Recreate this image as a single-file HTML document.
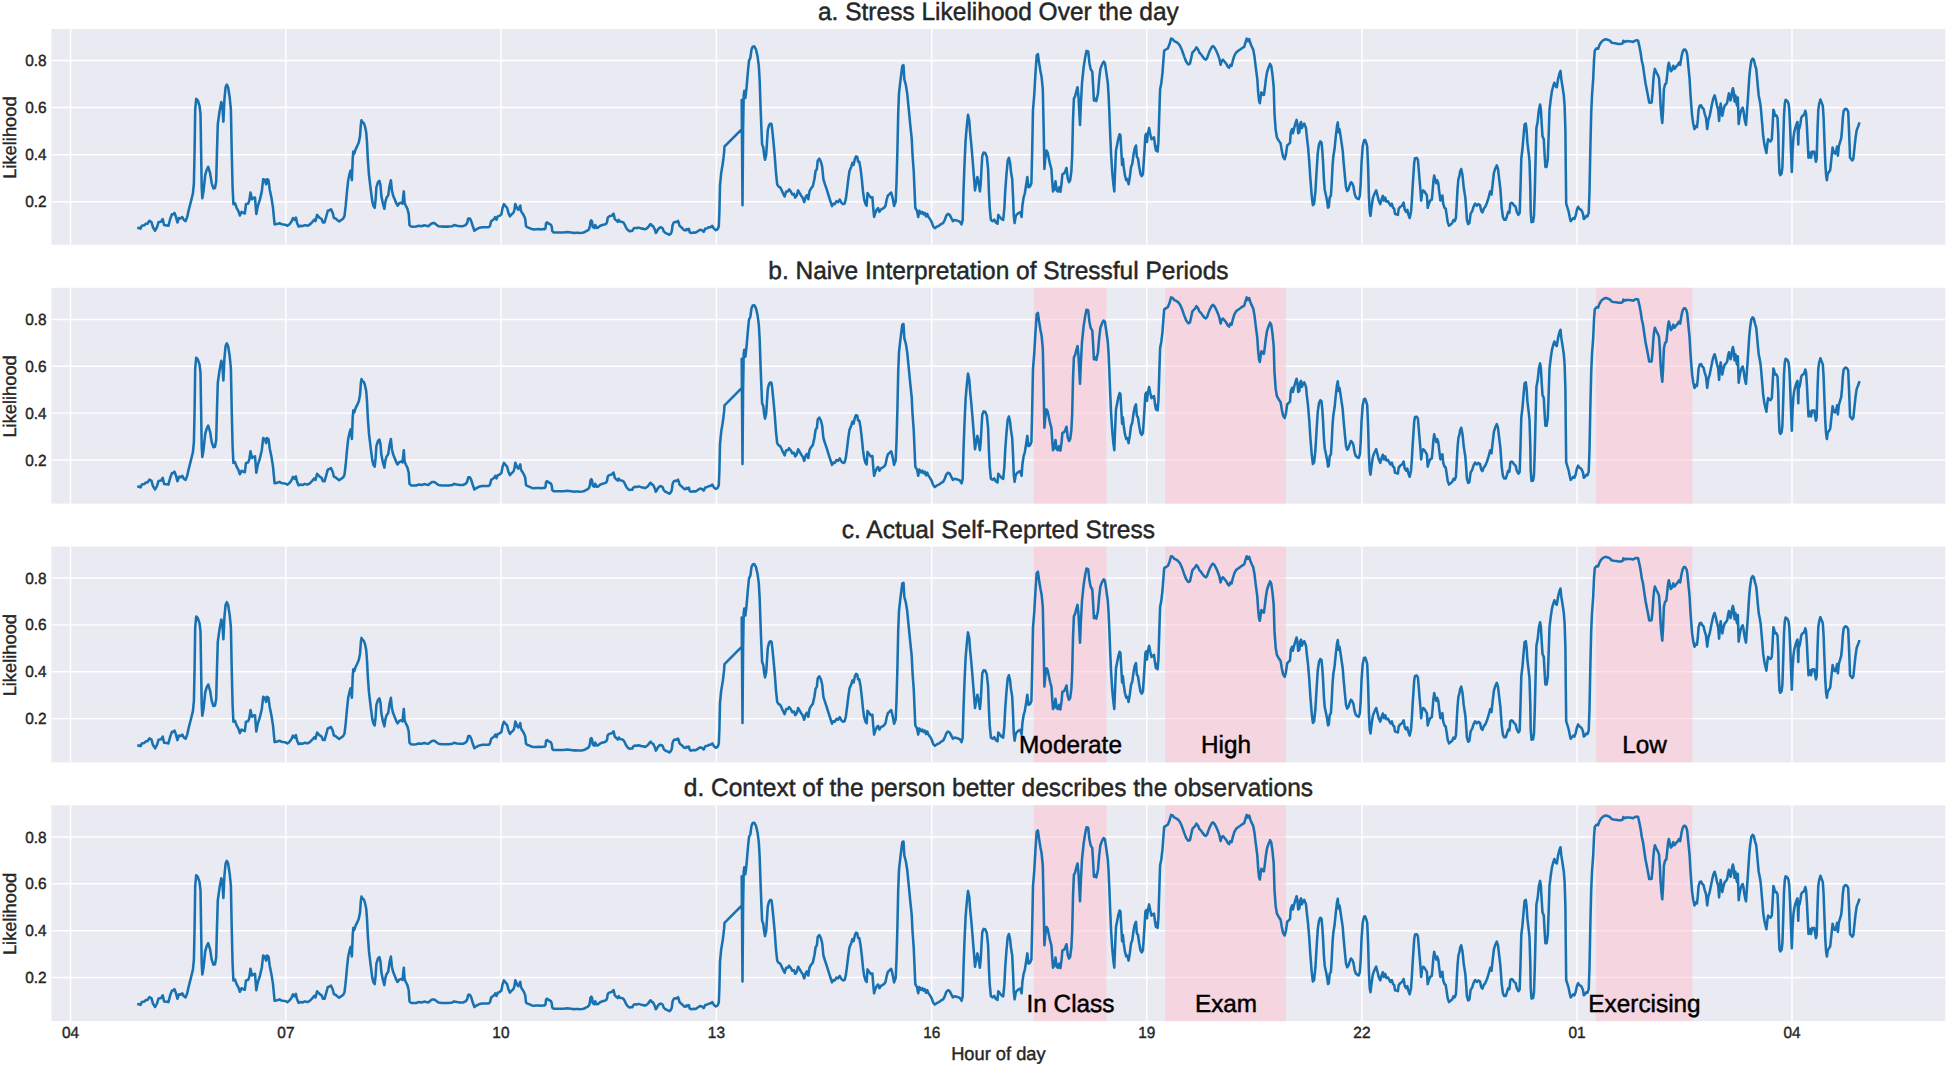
<!DOCTYPE html>
<html lang="en"><head><meta charset="utf-8"><title>Stress Likelihood</title>
<style>html,body{margin:0;padding:0;background:#fff}svg{display:block}text{font-family:"Liberation Sans",Arial,Helvetica,sans-serif;text-rendering:geometricPrecision}.t{font-size:24.5px;fill:#262626;stroke:#262626;stroke-width:.45px;text-anchor:middle}.k{font-size:15.4px;fill:#262626;stroke:#262626;stroke-width:.4px}.l{font-size:18.3px;fill:#262626;stroke:#262626;stroke-width:.4px;text-anchor:middle}.a{font-size:24.35px;fill:#000;stroke:#000;stroke-width:.45px;text-anchor:middle}</style></head><body>
<svg width="1948" height="1067" viewBox="0 0 1948 1067">
<rect width="1948" height="1067" fill="#fff"/>
<g>
<rect x="51.4" y="29.0" width="1894" height="215.8" fill="#eaeaf2"/>
<path d="M70.50,29.0V244.8M285.85,29.0V244.8M500.90,29.0V244.8M716.40,29.0V244.8M931.70,29.0V244.8M1146.80,29.0V244.8M1361.90,29.0V244.8M1577.00,29.0V244.8M1792.00,29.0V244.8M51.4,60.40H1945.4M51.4,107.53H1945.4M51.4,154.67H1945.4M51.4,201.80H1945.4" stroke="#fff" stroke-width="1.45" fill="none"/>
<path transform="translate(0,29.0)" d="M137.2,199.2 L139.2,198.8 L140.6,199.6 L141.8,196.8 L144.3,196.3 L145.9,194.7 L147.4,194.7 L149.4,191.8 L151.5,193.1 L152.9,198.2 L155.1,201.7 L157,198.2 L158.6,193.1 L161.1,192.7 L162.7,190 L164.1,196.1 L166.8,196.5 L168.4,196.8 L170.2,190 L171.9,185.3 L173.3,185.3 L174.5,183.9 L176,188 L177.4,193.5 L179,189 L180.7,189.4 L182.3,188 L183.9,191 L185.6,192.1 L187.2,188 L188.8,180.8 L190.9,172.6 L192.9,164.5 L193.9,154.3 L194.6,121.6 L195.2,80.7 L196.2,69.9 L197.8,71.5 L199.5,76.6 L200.5,84.8 L201.1,121.6 L201.7,158.3 L202.3,169.2 L203.5,162.4 L205.2,146.1 L206.6,141 L208.2,137.9 L210.1,144 L211.7,154.3 L213.4,159.4 L215,159 L216.2,152.2 L217,121.6 L217.8,95 L219.5,82.8 L221.3,73 L222.3,76.6 L223.4,92.6 L224.4,70.5 L225.6,58.2 L226.8,55.6 L228.1,58.2 L229.7,68.5 L230.9,80.7 L231.7,121.6 L232.6,158.3 L233.4,175.1 L235,174.3 L236.6,178.8 L238.3,181.8 L239.9,186.5 L241.5,182.9 L243.2,183.9 L244.8,184.5 L246,175.1 L248.1,174.7 L249.3,171.6 L250.5,163.5 L252,170.2 L253.4,169 L255,168.6 L256.3,184.9 L257.9,176.7 L259.9,170.6 L261.8,162.4 L263.2,150.2 L264.8,151.2 L266.1,155.3 L266.9,150.2 L268.5,151.2 L269.7,160.4 L271.4,168.6 L273,178.8 L274.6,195.5 L276.3,195.1 L277.9,194.7 L279.5,194.1 L281.2,195.1 L283.2,195.5 L285.3,195.7 L287.3,196.8 L289.3,195.5 L291.4,192.7 L293,189 L294.7,191 L295.9,188.6 L297.1,194.1 L298.7,197.6 L300.4,196.8 L302.4,197.2 L304.9,196.1 L307.3,196.8 L309.8,195.5 L312.2,193.1 L314.3,190.6 L315.5,192.1 L317.1,185.9 L318.8,188 L320,189 L321.6,190 L322.9,193.5 L324.5,193.5 L326.1,188 L327.8,181.8 L329.4,181.2 L331,180.4 L332.7,183.9 L333.9,189 L335.5,189.4 L337.2,191 L339.2,192.5 L341.2,191 L343.3,189.4 L344.5,186.9 L345.7,176.7 L347,162.4 L348.2,151.2 L349.8,144 L350.6,141.6 L351.9,151.2 L352.7,129.7 L353.3,122.6 L354.3,124.6 L355.5,120.6 L357.2,117.1 L358.8,113.4 L360,107.3 L360.9,95 L361.5,91.3 L362.5,93.4 L363.7,94 L364.9,97.1 L366.2,103.2 L367,113.4 L367.8,129.7 L369,146.1 L370.7,160.4 L372.3,172.6 L373.5,177.1 L374.7,178.8 L375.6,170.6 L376.4,158.3 L378,153.2 L379.4,151.8 L380.5,156.3 L381.3,166.5 L382.9,174.7 L384.4,179.8 L385.4,172.6 L386.6,168.6 L388.2,166.5 L389.5,157.3 L390.9,151.2 L391.9,161.4 L393.1,166.5 L394.8,170.6 L396.4,174.7 L397.6,176.7 L399.3,174.3 L400.9,173.7 L402.5,174.7 L403.8,162.4 L404.6,173.7 L405.8,176.7 L407.4,179.8 L408.7,184.9 L409.5,196.1 L411.1,197.6 L413.2,197.8 L416,197.6 L418.9,196.8 L421.7,197.2 L424.2,196.3 L426.2,196.8 L428.3,197.2 L430.3,195.5 L432.4,194.1 L434.4,194.1 L436.4,195.7 L438.5,197.2 L441.8,197.6 L445,197.6 L448.7,197.6 L452.4,197.2 L454,196.1 L456.9,196.8 L459.9,197.2 L463,197.2 L465.5,196.1 L467.1,194.1 L468.3,189.4 L469.9,189.4 L471.2,192.1 L472.8,197.2 L474.4,201.7 L476.5,200.2 L479.3,198.8 L482.6,198.2 L485.9,198.2 L488.7,198.2 L490,196.8 L491.2,192.1 L492.8,191 L494.1,190 L495.3,188 L496.5,190.6 L497.7,187.4 L499.4,186.9 L501.4,185.3 L502.6,178.8 L503.9,175.1 L505.5,177.1 L507.1,178.8 L508.4,183.9 L510,187.4 L510,187.3 L511.2,185.7 L512.5,184.7 L513.7,183.2 L514.5,180.6 L515.3,175 L516.2,177 L517,179.1 L518.2,180.8 L519.2,179.1 L520.3,176.5 L520.9,181.6 L521.9,183.5 L523.1,185.2 L524.2,187.3 L525.2,189.9 L526,197 L527,198.1 L528.5,198.6 L530.1,199.3 L532,200.1 L534,200.5 L536.3,200.3 L538.5,200.1 L540.8,200.5 L542.9,200.1 L544.7,200.1 L545.5,199.1 L546.1,194 L547.2,193.4 L548.4,194.5 L549.6,195 L550.9,195.8 L551.7,197.6 L552.3,202.2 L553.5,203.4 L555.2,203.5 L557.2,203.4 L559.3,203.4 L561.3,203.4 L563.4,203.4 L565.4,203.2 L567.1,203 L568.9,203.2 L571,203.4 L572.8,203.7 L574.1,204 L575.7,203.7 L577.8,203.8 L579.8,203.9 L581.9,203.8 L583.5,203.5 L584.9,203 L586.4,202 L587.8,201.4 L589.1,200.1 L589.9,197 L590.5,192.4 L591.3,191.4 L592.1,192.9 L592.8,198.1 L593.6,197 L594.4,199.1 L595.2,196 L596,197.6 L596.9,198.9 L598.1,198.6 L599.3,197.6 L600.3,196.8 L601.8,196.2 L603.2,195.8 L604.7,195.4 L606.1,194.8 L607.1,192.9 L607.7,188.8 L608.8,187.6 L610.2,187 L611.6,186.8 L612.7,185.7 L613.5,184.7 L614.1,186.8 L614.7,189.9 L615.7,190.9 L616.8,191.9 L617.8,192.9 L618.8,190.9 L619.9,192.4 L621.3,192.7 L622.5,192.9 L623.8,194 L624.8,195.8 L625.8,198.1 L627,200.1 L628.3,201.4 L629.5,202.2 L630.7,202 L632.2,202 L633.2,200.1 L634.2,199.1 L635.7,198.9 L637.3,199.1 L638.7,198.6 L640.2,199.1 L641.6,199.6 L643.1,199.6 L644.5,200.3 L645.9,199.9 L647.4,198.9 L648.6,197.6 L649.6,196 L650.7,195 L651.7,196.5 L653.1,197.2 L654.1,199.1 L655,201.1 L655.8,204 L656.8,202.7 L657.8,200.6 L659.1,199.1 L660.5,198.3 L661.7,198.6 L662.8,199.6 L663.6,202.2 L665,203.7 L666.5,204.4 L667.9,205 L669.3,205.8 L670.8,204.7 L671.8,202.2 L672.6,196 L673.9,193.4 L675.3,192.9 L676.7,193.1 L678,191.9 L678.8,194 L679.4,196.5 L680.4,197.6 L681.7,198.6 L682.9,199.9 L684.1,201.1 L685.6,201.4 L686.6,200.1 L687.8,200.9 L688.9,199.9 L689.7,203.2 L690.9,204 L692.3,203.7 L693.8,203.4 L695.2,203.7 L696.7,203 L698.1,202 L699.5,201.1 L700,200.8 L702,201.2 L703.7,202.9 L705.3,199.6 L707.4,199.2 L709,198.2 L710.6,198.2 L712.3,196.8 L713.9,199.6 L715.9,201.2 L717.6,200.2 L718.8,197.2 L719.4,182.9 L720,156.3 L721.2,144 L722.9,133.8 L724.1,123.6 L724.5,117.5 L741.9,100.1 L741.7,70.9 L742.5,176.3 L743.1,101.1 L743.7,66.4 L744.3,61.9 L745.4,68.9 L746.6,58.2 L747.8,43.9 L749,31.7 L750.3,29.2 L751.5,20.5 L752.7,17.8 L754.3,17.4 L756,20.5 L757.6,27.6 L758.8,36.8 L759.7,52.1 L760.5,76.6 L761.3,97.1 L762.1,115.4 L763.3,118.5 L764.1,125.7 L765,130.8 L766.2,125.7 L767,113.4 L767.8,101.1 L769.1,96 L770.3,94.6 L771.5,95 L772.3,101.1 L773.5,113.4 L774.8,127.7 L776,144 L777.2,155.3 L778.4,157.3 L780.1,158.3 L781.3,160.4 L782.9,164.1 L784.6,167.5 L786.2,162.4 L787.8,162.4 L789.1,160.4 L790.7,162.4 L792.3,165.5 L794,164.9 L795.2,168.6 L796.8,166.5 L798.1,161.4 L799.7,164.1 L801.3,166.9 L802.6,168.6 L804.2,173.1 L805.8,167.5 L807,166.1 L808.3,170.2 L809.5,162.4 L811.1,159.4 L812.8,157.3 L814.4,150.2 L815.6,142 L816.9,140 L817.7,131.8 L819.3,129.7 L820.9,132.8 L822.2,137.9 L823.4,150.2 L825,155.3 L826.7,160.4 L828.3,165.5 L829.9,170.6 L832,177.1 L833.2,174.7 L834.8,175.1 L836.5,172.2 L838.1,173.1 L839.7,170.6 L841.4,173.7 L843,175.1 L844.6,174.7 L845.9,169.6 L847.1,160.4 L848.3,150.2 L849.5,142 L851.2,137.9 L852.4,133.8 L853.6,135.9 L854.9,129.7 L856.1,127.3 L857.3,128.1 L858.1,132.8 L859.3,132.8 L860.6,140 L861.8,150.2 L863,162.4 L864.2,170.6 L865.5,175.1 L866.7,176.7 L867.5,164.1 L869.2,166.5 L870.8,168.6 L872.4,168.2 L873.2,178.8 L874.1,188 L875.3,183.9 L876.9,180.4 L878.1,179.2 L879.4,182.9 L881,180.4 L882.6,179.8 L884.3,178.4 L885.5,176.7 L886.7,170.6 L887.9,166.5 L889.2,165.5 L890,164.5 L891.2,163.5 L892.5,168.6 L894.1,177.1 L895.7,172.6 L896.5,154.3 L897.4,121.6 L898.2,84.8 L899,64.4 L900.6,50.1 L902.3,36.8 L903.5,36.2 L904.3,50.1 L905.9,56.2 L907.2,64.4 L908.8,80.7 L910.4,97.1 L911.7,109.3 L912.5,125.7 L913.7,142 L914.5,160.4 L915.3,178.8 L917,181.8 L918.2,188 L919.4,181.8 L921.1,184.5 L922.3,182.9 L923.5,185.3 L924.7,183.9 L926,187.4 L927.2,184.9 L928.4,188 L930,190 L931.7,193.1 L933.3,197.6 L934.9,199.2 L937,197.6 L939,196.8 L941.1,195.1 L943.1,194.1 L944.7,191 L946.4,186.5 L948,184.9 L949.7,185.9 L951.3,189 L952.9,192.1 L954.6,191 L956.6,191.4 L958.6,192.1 L960.3,193.1 L961.5,195.5 L962.7,191 L963.5,162.4 L964.4,137.9 L965.6,111.4 L966.8,97.1 L968,85.8 L969.3,92 L970.1,103.2 L971.3,115.4 L972.5,129.7 L973.8,146.1 L975,161.4 L976.2,154.3 L977.4,148.1 L978.7,154.3 L979.9,162.4 L980.7,154.3 L981.5,140 L982.3,126.7 L983.6,123.6 L985.2,124 L986.8,127.7 L988.1,140 L988.9,162.4 L989.7,178.8 L990.9,191 L992.6,192.1 L994.2,190.6 L995.8,193.5 L997.5,194.7 L998.3,185.9 L999.9,188 L1001.5,190 L1003.2,191 L1004.4,178.8 L1005.2,162.4 L1006.4,146.1 L1007.7,131.8 L1008.9,128.7 L1010.1,133.8 L1010.9,142 L1012.2,150.2 L1013,166.5 L1013.8,186.9 L1014.6,194.1 L1015.8,186.9 L1017.1,185.3 L1018.7,183.9 L1020.3,183.3 L1021.6,188 L1022.4,176.7 L1023.6,168.6 L1024.8,164.5 L1026.1,156.3 L1027.3,148.1 L1028.5,158.3 L1030.1,157.3 L1031.4,154.3 L1032.2,121.6 L1033,80.7 L1034.2,66.4 L1035.5,43.9 L1036.7,26.6 L1037.9,25.1 L1039.1,33.7 L1040.4,41.9 L1041.6,48 L1042.8,60.3 L1043.6,97.1 L1044.4,140 L1045.3,129.7 L1046.5,121.6 L1047.7,123.6 L1048.9,129.7 L1050.2,135.9 L1051.4,140 L1052.2,152.2 L1053,162.4 L1054.2,160.4 L1055.5,152.2 L1056.7,161.4 L1057.9,162.4 L1059.2,158.3 L1060.4,162.8 L1061.6,154.3 L1062.4,145.1 L1064.1,144.5 L1065.3,142 L1066.5,138.9 L1067.7,149.2 L1069,153.2 L1070.2,151.2 L1071.4,142 L1072.2,125.7 L1073,90.9 L1073.9,69.5 L1075.1,67.4 L1076.3,62.3 L1077.5,58.2 L1078.4,66.4 L1079.2,80.7 L1080,96 L1080,96 L1080.8,76.6 L1082,54.2 L1083.7,37.8 L1085.3,27.6 L1086.5,21.9 L1088.2,22.5 L1089.4,33.7 L1090.6,39.9 L1092.3,42.9 L1093.1,56.2 L1093.9,71.5 L1095.1,69.5 L1096.3,72.1 L1098,64.4 L1099.2,50.1 L1100.4,39.9 L1102.1,35.4 L1103.7,32.7 L1104.9,34.1 L1106.1,41.9 L1107.8,54.2 L1108.6,66.4 L1109.4,84.8 L1110.2,105.2 L1111.1,125.7 L1112.3,144 L1113.5,156.3 L1114.3,162.4 L1115.1,142 L1116,121.6 L1117.2,115.4 L1118.4,109.3 L1119.6,105.2 L1120.4,106.3 L1121.3,121.6 L1122.1,135.9 L1122.9,129.7 L1123.7,137.9 L1124.9,146.1 L1126.2,151.2 L1127.4,150.2 L1128.6,155.3 L1129.8,148.1 L1131.1,137.9 L1132.3,134.9 L1133.5,125.7 L1134.7,119.5 L1136,116.5 L1136.8,127.7 L1138,129.7 L1139.2,137.9 L1140.5,145.1 L1141.7,147.1 L1142.9,145.1 L1143.7,133.8 L1144.6,119.5 L1145.4,106.3 L1146.2,104.8 L1147,113 L1147.8,105.2 L1149.1,99.1 L1150.3,105.2 L1151.5,110.3 L1152.7,109.3 L1154,108.3 L1155.2,117.5 L1156,121.6 L1156.8,117.5 L1157.6,122.6 L1158.4,113.4 L1159.3,84.8 L1160.1,60.3 L1161.3,54.2 L1162.5,43.9 L1163.4,31.7 L1164.2,21.5 L1165.8,20.5 L1167.8,19.4 L1169.5,15.3 L1171.1,9.6 L1172.7,10.2 L1174.4,12.3 L1176,12.9 L1178.1,14.3 L1180.1,17 L1182.1,21.5 L1184.2,27.6 L1186.2,32.7 L1188.3,35.4 L1189.9,34.8 L1191.1,29.6 L1192.4,23.5 L1194,21.9 L1195.2,20.5 L1196.4,18.4 L1198.1,20.5 L1199.3,23.5 L1200.9,25.1 L1202.6,27.6 L1204.2,29.6 L1205.8,30.7 L1207.1,29.2 L1208.3,25.6 L1209.9,21.5 L1211.6,18.4 L1212.8,17 L1214.4,18.4 L1216.1,21.5 L1217.7,25.1 L1219.3,29.6 L1220.6,35.8 L1221.8,31.7 L1223,30.7 L1224.6,32.7 L1226.3,34.8 L1227.9,37.8 L1229.1,38.8 L1230.4,35.8 L1231.6,36.8 L1232.8,31.7 L1234.4,26.6 L1236.1,23.5 L1238.1,21.9 L1240.2,20.5 L1242.2,19 L1244.2,17.8 L1245.5,13.3 L1246.7,9.6 L1247.9,12.3 L1249.2,10.2 L1250.4,14.3 L1251.6,17.4 L1253.2,20.5 L1254.5,27.6 L1255.7,37.8 L1257.3,50.1 L1258.1,62.3 L1259,71.5 L1259.8,74.2 L1260.6,68.5 L1261.4,63.4 L1262.6,65.4 L1263.9,66 L1264.7,60.3 L1265.9,50.1 L1267.1,42.9 L1268.8,37.8 L1270,35.4 L1270,34.8 L1271.2,36.8 L1272.5,46 L1273.7,58.2 L1274.5,84.8 L1275.7,101.1 L1276.9,108.3 L1278.6,111.4 L1280.6,114.4 L1281.8,121.6 L1283.1,127.7 L1284.7,130.2 L1285.9,125.7 L1287.2,116.5 L1288.4,115.4 L1290,113.8 L1290.8,103.2 L1292.1,100.1 L1292.9,104.2 L1294.1,99.1 L1295.3,95 L1296.6,90.9 L1297.4,95 L1298.2,104.2 L1299.4,103.2 L1300.2,95 L1301.1,93 L1301.9,99.1 L1303.1,96 L1304.3,94.6 L1306,99.1 L1306.8,107.3 L1308,117.5 L1309.2,131.8 L1310.4,150.2 L1311.7,166.5 L1312.9,176.3 L1314.1,174.7 L1315.4,162.4 L1316.6,142 L1317.8,123.6 L1319,115.4 L1320.3,112.4 L1321.5,113.4 L1322.3,121.6 L1323.1,133.8 L1323.9,150.2 L1324.7,160.4 L1326,166.5 L1327.2,172.6 L1328,178.8 L1328.8,177.8 L1329.7,168.6 L1330.9,166.5 L1331.7,154.3 L1332.5,137.9 L1333.3,127.7 L1334.6,119.5 L1335.8,107.3 L1337,97.1 L1337.8,93.4 L1338.6,103.2 L1339.5,100.1 L1340.3,105.2 L1341.5,113.4 L1342.7,121.6 L1343.5,131.8 L1344.8,146.1 L1346,158.3 L1347.2,162 L1348.4,160.4 L1349.7,156.3 L1350.9,153.2 L1352.1,154.3 L1353.4,157.3 L1354.6,164.5 L1355.8,168.2 L1357.4,169.6 L1358.7,170.2 L1359.9,166.5 L1360.7,154.3 L1361.5,133.8 L1362.7,117.5 L1364,111.4 L1365.2,111 L1366.4,114.4 L1367.2,117.5 L1368.1,137.9 L1368.9,166.5 L1369.7,182.9 L1370.5,186.9 L1371.7,176.7 L1373,168.6 L1374.6,164.5 L1376.2,161.4 L1377.5,166.5 L1378.7,171.6 L1380.3,175.1 L1381.5,170.6 L1382.8,166.9 L1384,171.6 L1385.2,168.6 L1386.4,172.6 L1388.1,172.2 L1389.3,174.7 L1390.5,176.7 L1391.8,174.7 L1393,178.8 L1394.2,179.8 L1395,184.9 L1396.7,185.3 L1397.9,185.9 L1398.7,179.8 L1400.3,177.8 L1402,176.7 L1403.6,173.7 L1404.8,180.8 L1406.1,182.9 L1407.3,180.8 L1408.5,185.9 L1409.7,189 L1411,182.9 L1411.8,172.6 L1412.6,158.3 L1413.4,146.1 L1414.2,133.8 L1415,129.3 L1416.7,128.9 L1417.9,130.8 L1418.7,140 L1419.5,150.2 L1420.4,160.4 L1421.2,171.6 L1422,164.5 L1423.2,161.4 L1424.4,162.4 L1425.7,164.5 L1426.9,166.5 L1427.7,178.8 L1428.9,174.7 L1430.2,171.6 L1431.8,170.6 L1432.6,162.4 L1433.4,152.2 L1434.2,146.5 L1435.1,150.2 L1436.3,154.3 L1437.1,151.2 L1438.3,154.3 L1439.2,162.4 L1440.4,171.6 L1441.6,168.6 L1442.4,166.5 L1443.2,174.7 L1444.5,178.8 L1445.7,179.8 L1446.5,184.9 L1447.7,193.1 L1449,196.8 L1450.6,195.5 L1452.2,194.1 L1453.5,191 L1454.7,192.1 L1455.9,189 L1456.7,174.7 L1457.5,160.4 L1458.4,150.2 L1459.6,146.1 L1460,143 L1461.2,140 L1462.5,146.1 L1463.7,158.3 L1465.3,168.6 L1466.1,178.8 L1466.9,191 L1468.2,195.1 L1469.4,194.1 L1470.6,184.9 L1472.3,181.8 L1473.5,177.8 L1475.1,174.7 L1476.8,176.7 L1478.4,175.1 L1480,176.3 L1481.2,181.8 L1482.5,183.3 L1483.7,179.8 L1485.3,177.8 L1487,173.7 L1488.6,168.6 L1490.2,162.4 L1491.5,165.5 L1492.7,154.3 L1493.9,144 L1495.1,140 L1496.8,136.3 L1498,140 L1499.2,150.2 L1500.4,160.4 L1501.7,178.8 L1502.9,188 L1504.1,190.6 L1505.8,190.6 L1507,186.9 L1508.2,182.9 L1509.4,183.9 L1510.3,174.7 L1511.5,173.7 L1512.7,174.3 L1513.9,176.3 L1515.6,177.8 L1516.8,182.9 L1518.4,185.9 L1519.7,183.9 L1520.5,158.3 L1521.3,129.7 L1522.5,119.5 L1523.7,105.2 L1524.6,95.4 L1525.8,94.6 L1526.6,101.1 L1527.4,113.4 L1528.6,123.6 L1529.5,131.8 L1530.3,158.3 L1530.7,182.9 L1531.5,193.1 L1533.1,192.7 L1534,186.9 L1534.8,162.4 L1535.6,129.7 L1536.4,99.1 L1537.6,93 L1538.9,80.7 L1540.1,75.6 L1540.9,80.7 L1541.7,95 L1542.5,107.3 L1543.8,110.3 L1544.6,125.7 L1545.4,137.9 L1546.6,137.9 L1547.8,129.7 L1548.7,105.2 L1549.5,80.7 L1550.7,70.5 L1551.9,62.3 L1553.2,57.2 L1554.4,53.7 L1555.6,57.2 L1556.8,58.2 L1558.1,50.1 L1559.3,45 L1560.5,41.9 L1561.3,50.1 L1562.6,58.2 L1563.8,66.4 L1564.6,76.6 L1565.4,101.1 L1565.8,142 L1566.2,174.7 L1567.5,178.8 L1568.7,182.9 L1569.9,189 L1570.7,192.1 L1572,190.6 L1573.2,189 L1574.4,190 L1575.6,186.9 L1576.9,180.8 L1578.1,177.8 L1579.3,179.8 L1580.5,180.4 L1581.8,181.8 L1583,184.9 L1583.8,190 L1585,189 L1586.3,186.9 L1587.5,187.4 L1588.7,183.9 L1589.5,162.4 L1590.3,121.6 L1591.2,84.8 L1592,66.4 L1593.2,50.1 L1594,31.7 L1594.8,21.5 L1596.5,19.4 L1598.1,19.8 L1599.3,16.4 L1601,13.3 L1603,11.3 L1605.5,10.2 L1607.9,10.8 L1609.9,11.7 L1611.6,13.7 L1613.6,14.1 L1616.1,14.5 L1618.5,14.9 L1621,14.9 L1622.6,14.3 L1623.4,11.7 L1625.1,12.9 L1626.7,12.1 L1628.7,12.3 L1631.2,12.5 L1633.2,12.9 L1634.9,11.7 L1636.9,11.3 L1638.1,11.7 L1639.4,17.4 L1640.6,23.5 L1641.8,31.7 L1643,36.8 L1644.3,46 L1645.5,54.2 L1646.7,60.3 L1647.9,66.4 L1649.2,73.6 L1650,73.8 L1651.6,73.6 L1652.5,64.4 L1653.3,52.1 L1654.1,43.9 L1654.9,39.9 L1656.1,42.9 L1657.8,46 L1659,49.1 L1659.8,60.3 L1660.6,76.6 L1661.4,86.8 L1662.3,94 L1663.1,80.7 L1663.9,60.3 L1665.1,55.2 L1666.3,54.2 L1667.2,46 L1668,37.8 L1668.8,33.7 L1669.6,36.8 L1670.8,42.3 L1672.1,40.9 L1673.3,36.8 L1674.5,39.9 L1676.1,37.8 L1677.8,35.8 L1679,33.7 L1680.2,35.8 L1681.5,27.6 L1682.7,22.5 L1683.9,20.5 L1685.1,20.5 L1686.4,22.5 L1687.2,25.6 L1688,33.7 L1688.8,41.9 L1689.6,50.1 L1690.4,64.4 L1691.3,76.6 L1692.1,86.8 L1693.3,95 L1694.5,100.1 L1695.8,97.1 L1697,98.1 L1697.8,90.9 L1698.6,80.7 L1699.8,76.6 L1701.1,76.2 L1702.3,78.7 L1703.5,79.7 L1704.7,84.8 L1706,88.9 L1707.2,100.1 L1708.4,90.9 L1709.7,86.8 L1710.9,80.7 L1712.1,74.6 L1713.3,69.5 L1714.6,66.4 L1715.8,70.5 L1717,76.6 L1718.2,80.7 L1719.1,92 L1719.9,80.7 L1720.7,74.6 L1721.5,80.7 L1722.3,86.8 L1723.5,80.7 L1724.8,76.6 L1726,75.6 L1727.2,73.6 L1728,68.5 L1728.9,64.4 L1729.7,67.4 L1730.5,71.5 L1731.3,68.5 L1732.1,62.3 L1732.9,59.3 L1733.8,63.4 L1734.6,72.5 L1735.4,66.4 L1736.2,72.5 L1737,76.6 L1737.8,68.5 L1738.7,95 L1739.5,88.9 L1740.7,82.8 L1741.9,79.7 L1742.7,78.7 L1743.6,82.8 L1744.4,88.9 L1745.2,93 L1746,96 L1746.8,84.8 L1747.7,72.5 L1748.5,60.3 L1749.3,48 L1750.1,39.9 L1751.3,31.7 L1752.6,29.6 L1753.8,30.7 L1755,35.8 L1756.2,39.9 L1757,48 L1757.9,58.2 L1758.7,66.4 L1759.9,72.5 L1760.7,77.7 L1761.5,86.8 L1762.4,97.1 L1763.2,107.3 L1764.4,115.4 L1765.6,120.6 L1766.4,124 L1767.3,115.4 L1768.1,110.3 L1769.3,111.4 L1770.5,112.4 L1771.8,110.3 L1772.6,97.1 L1773.4,80.7 L1774.2,82.8 L1775,86.8 L1776.3,86.4 L1777.5,88.9 L1778.3,105.2 L1778.7,125.7 L1779.5,144 L1780.3,146.1 L1781.6,144.5 L1782.4,137.9 L1783.2,113.4 L1784,86.8 L1784.8,74.6 L1785.6,70.9 L1787.3,72.1 L1788.5,74.6 L1789.3,80.7 L1790.1,97.1 L1791,121.6 L1791.8,143 L1792.6,121.6 L1793.4,109.3 L1794.2,103.2 L1795.5,98.1 L1796.7,94.6 L1797.5,93 L1798.3,115.4 L1798.7,101.1 L1799.5,99.1 L1800.4,95 L1801.2,88.9 L1802.4,86.8 L1803.6,86.4 L1804.4,84.8 L1805.3,81.7 L1806.1,84.8 L1806.9,97.1 L1807.7,113.4 L1808.5,128.7 L1809.8,123.6 L1811,128.7 L1812.2,122.6 L1813.4,123.6 L1814.2,122.6 L1815.1,127.7 L1815.9,132.8 L1816.7,129.7 L1817.5,101.1 L1818.3,80.7 L1819.2,74.6 L1820.4,70.5 L1821.6,73.6 L1822.8,76.6 L1823.6,88.9 L1824.5,113.4 L1825.3,133.8 L1826.1,146.1 L1826.9,151.2 L1827.7,145.1 L1829,143 L1830.2,141 L1831.4,129.7 L1832.6,118.5 L1833.9,123.6 L1835.1,124.6 L1836.3,121.6 L1837.1,117.5 L1837.9,126.7 L1838.8,117.5 L1840,113.4 L1841.2,109.3 L1842,101.1 L1842.8,88.9 L1843.7,81.7 L1845.3,79.7 L1846.9,80.3 L1848.2,82.8 L1849,101.1 L1849.8,121.6 L1850,128.7 L1851,129.7 L1852.2,131.4 L1853.4,129.7 L1854.2,121.6 L1855.5,109.3 L1856.7,101.1 L1857.9,98.1 L1858.7,96 L1859.5,93.4" fill="none" stroke="#1871b1" stroke-width="2.55" stroke-linejoin="round" stroke-linecap="butt"/>
<text class="t" transform="translate(998.4,20.0) scale(1,1.02)">a. Stress Likelihood Over the day</text>
<text class="k" text-anchor="end" transform="translate(46.6,65.9) scale(1,1.04)">0.8</text>
<text class="k" text-anchor="end" transform="translate(46.6,113.0) scale(1,1.04)">0.6</text>
<text class="k" text-anchor="end" transform="translate(46.6,160.2) scale(1,1.04)">0.4</text>
<text class="k" text-anchor="end" transform="translate(46.6,207.3) scale(1,1.04)">0.2</text>
<text class="l" transform="translate(15.7,137.6) rotate(-90) scale(1,1.0)">Likelihood</text>
</g>
<g>
<rect x="51.4" y="287.8" width="1894" height="215.8" fill="#eaeaf2"/>
<path d="M70.50,287.8V503.6M285.85,287.8V503.6M500.90,287.8V503.6M716.40,287.8V503.6M931.70,287.8V503.6M1146.80,287.8V503.6M1361.90,287.8V503.6M1577.00,287.8V503.6M1792.00,287.8V503.6M51.4,319.40H1945.4M51.4,366.27H1945.4M51.4,413.13H1945.4M51.4,460.00H1945.4" stroke="#fff" stroke-width="1.45" fill="none"/>
<rect x="1033.8" y="287.8" width="72.6" height="215.8" fill="#ffc0cb" fill-opacity="0.5"/>
<rect x="1165.2" y="287.8" width="120.8" height="215.8" fill="#ffc0cb" fill-opacity="0.5"/>
<rect x="1595.9" y="287.8" width="96.4" height="215.8" fill="#ffc0cb" fill-opacity="0.5"/>
<path transform="translate(0,287.8)" d="M137.2,199.2 L139.2,198.8 L140.6,199.6 L141.8,196.8 L144.3,196.3 L145.9,194.7 L147.4,194.7 L149.4,191.8 L151.5,193.1 L152.9,198.2 L155.1,201.7 L157,198.2 L158.6,193.1 L161.1,192.7 L162.7,190 L164.1,196.1 L166.8,196.5 L168.4,196.8 L170.2,190 L171.9,185.3 L173.3,185.3 L174.5,183.9 L176,188 L177.4,193.5 L179,189 L180.7,189.4 L182.3,188 L183.9,191 L185.6,192.1 L187.2,188 L188.8,180.8 L190.9,172.6 L192.9,164.5 L193.9,154.3 L194.6,121.6 L195.2,80.7 L196.2,69.9 L197.8,71.5 L199.5,76.6 L200.5,84.8 L201.1,121.6 L201.7,158.3 L202.3,169.2 L203.5,162.4 L205.2,146.1 L206.6,141 L208.2,137.9 L210.1,144 L211.7,154.3 L213.4,159.4 L215,159 L216.2,152.2 L217,121.6 L217.8,95 L219.5,82.8 L221.3,73 L222.3,76.6 L223.4,92.6 L224.4,70.5 L225.6,58.2 L226.8,55.6 L228.1,58.2 L229.7,68.5 L230.9,80.7 L231.7,121.6 L232.6,158.3 L233.4,175.1 L235,174.3 L236.6,178.8 L238.3,181.8 L239.9,186.5 L241.5,182.9 L243.2,183.9 L244.8,184.5 L246,175.1 L248.1,174.7 L249.3,171.6 L250.5,163.5 L252,170.2 L253.4,169 L255,168.6 L256.3,184.9 L257.9,176.7 L259.9,170.6 L261.8,162.4 L263.2,150.2 L264.8,151.2 L266.1,155.3 L266.9,150.2 L268.5,151.2 L269.7,160.4 L271.4,168.6 L273,178.8 L274.6,195.5 L276.3,195.1 L277.9,194.7 L279.5,194.1 L281.2,195.1 L283.2,195.5 L285.3,195.7 L287.3,196.8 L289.3,195.5 L291.4,192.7 L293,189 L294.7,191 L295.9,188.6 L297.1,194.1 L298.7,197.6 L300.4,196.8 L302.4,197.2 L304.9,196.1 L307.3,196.8 L309.8,195.5 L312.2,193.1 L314.3,190.6 L315.5,192.1 L317.1,185.9 L318.8,188 L320,189 L321.6,190 L322.9,193.5 L324.5,193.5 L326.1,188 L327.8,181.8 L329.4,181.2 L331,180.4 L332.7,183.9 L333.9,189 L335.5,189.4 L337.2,191 L339.2,192.5 L341.2,191 L343.3,189.4 L344.5,186.9 L345.7,176.7 L347,162.4 L348.2,151.2 L349.8,144 L350.6,141.6 L351.9,151.2 L352.7,129.7 L353.3,122.6 L354.3,124.6 L355.5,120.6 L357.2,117.1 L358.8,113.4 L360,107.3 L360.9,95 L361.5,91.3 L362.5,93.4 L363.7,94 L364.9,97.1 L366.2,103.2 L367,113.4 L367.8,129.7 L369,146.1 L370.7,160.4 L372.3,172.6 L373.5,177.1 L374.7,178.8 L375.6,170.6 L376.4,158.3 L378,153.2 L379.4,151.8 L380.5,156.3 L381.3,166.5 L382.9,174.7 L384.4,179.8 L385.4,172.6 L386.6,168.6 L388.2,166.5 L389.5,157.3 L390.9,151.2 L391.9,161.4 L393.1,166.5 L394.8,170.6 L396.4,174.7 L397.6,176.7 L399.3,174.3 L400.9,173.7 L402.5,174.7 L403.8,162.4 L404.6,173.7 L405.8,176.7 L407.4,179.8 L408.7,184.9 L409.5,196.1 L411.1,197.6 L413.2,197.8 L416,197.6 L418.9,196.8 L421.7,197.2 L424.2,196.3 L426.2,196.8 L428.3,197.2 L430.3,195.5 L432.4,194.1 L434.4,194.1 L436.4,195.7 L438.5,197.2 L441.8,197.6 L445,197.6 L448.7,197.6 L452.4,197.2 L454,196.1 L456.9,196.8 L459.9,197.2 L463,197.2 L465.5,196.1 L467.1,194.1 L468.3,189.4 L469.9,189.4 L471.2,192.1 L472.8,197.2 L474.4,201.7 L476.5,200.2 L479.3,198.8 L482.6,198.2 L485.9,198.2 L488.7,198.2 L490,196.8 L491.2,192.1 L492.8,191 L494.1,190 L495.3,188 L496.5,190.6 L497.7,187.4 L499.4,186.9 L501.4,185.3 L502.6,178.8 L503.9,175.1 L505.5,177.1 L507.1,178.8 L508.4,183.9 L510,187.4 L510,187.3 L511.2,185.7 L512.5,184.7 L513.7,183.2 L514.5,180.6 L515.3,175 L516.2,177 L517,179.1 L518.2,180.8 L519.2,179.1 L520.3,176.5 L520.9,181.6 L521.9,183.5 L523.1,185.2 L524.2,187.3 L525.2,189.9 L526,197 L527,198.1 L528.5,198.6 L530.1,199.3 L532,200.1 L534,200.5 L536.3,200.3 L538.5,200.1 L540.8,200.5 L542.9,200.1 L544.7,200.1 L545.5,199.1 L546.1,194 L547.2,193.4 L548.4,194.5 L549.6,195 L550.9,195.8 L551.7,197.6 L552.3,202.2 L553.5,203.4 L555.2,203.5 L557.2,203.4 L559.3,203.4 L561.3,203.4 L563.4,203.4 L565.4,203.2 L567.1,203 L568.9,203.2 L571,203.4 L572.8,203.7 L574.1,204 L575.7,203.7 L577.8,203.8 L579.8,203.9 L581.9,203.8 L583.5,203.5 L584.9,203 L586.4,202 L587.8,201.4 L589.1,200.1 L589.9,197 L590.5,192.4 L591.3,191.4 L592.1,192.9 L592.8,198.1 L593.6,197 L594.4,199.1 L595.2,196 L596,197.6 L596.9,198.9 L598.1,198.6 L599.3,197.6 L600.3,196.8 L601.8,196.2 L603.2,195.8 L604.7,195.4 L606.1,194.8 L607.1,192.9 L607.7,188.8 L608.8,187.6 L610.2,187 L611.6,186.8 L612.7,185.7 L613.5,184.7 L614.1,186.8 L614.7,189.9 L615.7,190.9 L616.8,191.9 L617.8,192.9 L618.8,190.9 L619.9,192.4 L621.3,192.7 L622.5,192.9 L623.8,194 L624.8,195.8 L625.8,198.1 L627,200.1 L628.3,201.4 L629.5,202.2 L630.7,202 L632.2,202 L633.2,200.1 L634.2,199.1 L635.7,198.9 L637.3,199.1 L638.7,198.6 L640.2,199.1 L641.6,199.6 L643.1,199.6 L644.5,200.3 L645.9,199.9 L647.4,198.9 L648.6,197.6 L649.6,196 L650.7,195 L651.7,196.5 L653.1,197.2 L654.1,199.1 L655,201.1 L655.8,204 L656.8,202.7 L657.8,200.6 L659.1,199.1 L660.5,198.3 L661.7,198.6 L662.8,199.6 L663.6,202.2 L665,203.7 L666.5,204.4 L667.9,205 L669.3,205.8 L670.8,204.7 L671.8,202.2 L672.6,196 L673.9,193.4 L675.3,192.9 L676.7,193.1 L678,191.9 L678.8,194 L679.4,196.5 L680.4,197.6 L681.7,198.6 L682.9,199.9 L684.1,201.1 L685.6,201.4 L686.6,200.1 L687.8,200.9 L688.9,199.9 L689.7,203.2 L690.9,204 L692.3,203.7 L693.8,203.4 L695.2,203.7 L696.7,203 L698.1,202 L699.5,201.1 L700,200.8 L702,201.2 L703.7,202.9 L705.3,199.6 L707.4,199.2 L709,198.2 L710.6,198.2 L712.3,196.8 L713.9,199.6 L715.9,201.2 L717.6,200.2 L718.8,197.2 L719.4,182.9 L720,156.3 L721.2,144 L722.9,133.8 L724.1,123.6 L724.5,117.5 L741.9,100.1 L741.7,70.9 L742.5,176.3 L743.1,101.1 L743.7,66.4 L744.3,61.9 L745.4,68.9 L746.6,58.2 L747.8,43.9 L749,31.7 L750.3,29.2 L751.5,20.5 L752.7,17.8 L754.3,17.4 L756,20.5 L757.6,27.6 L758.8,36.8 L759.7,52.1 L760.5,76.6 L761.3,97.1 L762.1,115.4 L763.3,118.5 L764.1,125.7 L765,130.8 L766.2,125.7 L767,113.4 L767.8,101.1 L769.1,96 L770.3,94.6 L771.5,95 L772.3,101.1 L773.5,113.4 L774.8,127.7 L776,144 L777.2,155.3 L778.4,157.3 L780.1,158.3 L781.3,160.4 L782.9,164.1 L784.6,167.5 L786.2,162.4 L787.8,162.4 L789.1,160.4 L790.7,162.4 L792.3,165.5 L794,164.9 L795.2,168.6 L796.8,166.5 L798.1,161.4 L799.7,164.1 L801.3,166.9 L802.6,168.6 L804.2,173.1 L805.8,167.5 L807,166.1 L808.3,170.2 L809.5,162.4 L811.1,159.4 L812.8,157.3 L814.4,150.2 L815.6,142 L816.9,140 L817.7,131.8 L819.3,129.7 L820.9,132.8 L822.2,137.9 L823.4,150.2 L825,155.3 L826.7,160.4 L828.3,165.5 L829.9,170.6 L832,177.1 L833.2,174.7 L834.8,175.1 L836.5,172.2 L838.1,173.1 L839.7,170.6 L841.4,173.7 L843,175.1 L844.6,174.7 L845.9,169.6 L847.1,160.4 L848.3,150.2 L849.5,142 L851.2,137.9 L852.4,133.8 L853.6,135.9 L854.9,129.7 L856.1,127.3 L857.3,128.1 L858.1,132.8 L859.3,132.8 L860.6,140 L861.8,150.2 L863,162.4 L864.2,170.6 L865.5,175.1 L866.7,176.7 L867.5,164.1 L869.2,166.5 L870.8,168.6 L872.4,168.2 L873.2,178.8 L874.1,188 L875.3,183.9 L876.9,180.4 L878.1,179.2 L879.4,182.9 L881,180.4 L882.6,179.8 L884.3,178.4 L885.5,176.7 L886.7,170.6 L887.9,166.5 L889.2,165.5 L890,164.5 L891.2,163.5 L892.5,168.6 L894.1,177.1 L895.7,172.6 L896.5,154.3 L897.4,121.6 L898.2,84.8 L899,64.4 L900.6,50.1 L902.3,36.8 L903.5,36.2 L904.3,50.1 L905.9,56.2 L907.2,64.4 L908.8,80.7 L910.4,97.1 L911.7,109.3 L912.5,125.7 L913.7,142 L914.5,160.4 L915.3,178.8 L917,181.8 L918.2,188 L919.4,181.8 L921.1,184.5 L922.3,182.9 L923.5,185.3 L924.7,183.9 L926,187.4 L927.2,184.9 L928.4,188 L930,190 L931.7,193.1 L933.3,197.6 L934.9,199.2 L937,197.6 L939,196.8 L941.1,195.1 L943.1,194.1 L944.7,191 L946.4,186.5 L948,184.9 L949.7,185.9 L951.3,189 L952.9,192.1 L954.6,191 L956.6,191.4 L958.6,192.1 L960.3,193.1 L961.5,195.5 L962.7,191 L963.5,162.4 L964.4,137.9 L965.6,111.4 L966.8,97.1 L968,85.8 L969.3,92 L970.1,103.2 L971.3,115.4 L972.5,129.7 L973.8,146.1 L975,161.4 L976.2,154.3 L977.4,148.1 L978.7,154.3 L979.9,162.4 L980.7,154.3 L981.5,140 L982.3,126.7 L983.6,123.6 L985.2,124 L986.8,127.7 L988.1,140 L988.9,162.4 L989.7,178.8 L990.9,191 L992.6,192.1 L994.2,190.6 L995.8,193.5 L997.5,194.7 L998.3,185.9 L999.9,188 L1001.5,190 L1003.2,191 L1004.4,178.8 L1005.2,162.4 L1006.4,146.1 L1007.7,131.8 L1008.9,128.7 L1010.1,133.8 L1010.9,142 L1012.2,150.2 L1013,166.5 L1013.8,186.9 L1014.6,194.1 L1015.8,186.9 L1017.1,185.3 L1018.7,183.9 L1020.3,183.3 L1021.6,188 L1022.4,176.7 L1023.6,168.6 L1024.8,164.5 L1026.1,156.3 L1027.3,148.1 L1028.5,158.3 L1030.1,157.3 L1031.4,154.3 L1032.2,121.6 L1033,80.7 L1034.2,66.4 L1035.5,43.9 L1036.7,26.6 L1037.9,25.1 L1039.1,33.7 L1040.4,41.9 L1041.6,48 L1042.8,60.3 L1043.6,97.1 L1044.4,140 L1045.3,129.7 L1046.5,121.6 L1047.7,123.6 L1048.9,129.7 L1050.2,135.9 L1051.4,140 L1052.2,152.2 L1053,162.4 L1054.2,160.4 L1055.5,152.2 L1056.7,161.4 L1057.9,162.4 L1059.2,158.3 L1060.4,162.8 L1061.6,154.3 L1062.4,145.1 L1064.1,144.5 L1065.3,142 L1066.5,138.9 L1067.7,149.2 L1069,153.2 L1070.2,151.2 L1071.4,142 L1072.2,125.7 L1073,90.9 L1073.9,69.5 L1075.1,67.4 L1076.3,62.3 L1077.5,58.2 L1078.4,66.4 L1079.2,80.7 L1080,96 L1080,96 L1080.8,76.6 L1082,54.2 L1083.7,37.8 L1085.3,27.6 L1086.5,21.9 L1088.2,22.5 L1089.4,33.7 L1090.6,39.9 L1092.3,42.9 L1093.1,56.2 L1093.9,71.5 L1095.1,69.5 L1096.3,72.1 L1098,64.4 L1099.2,50.1 L1100.4,39.9 L1102.1,35.4 L1103.7,32.7 L1104.9,34.1 L1106.1,41.9 L1107.8,54.2 L1108.6,66.4 L1109.4,84.8 L1110.2,105.2 L1111.1,125.7 L1112.3,144 L1113.5,156.3 L1114.3,162.4 L1115.1,142 L1116,121.6 L1117.2,115.4 L1118.4,109.3 L1119.6,105.2 L1120.4,106.3 L1121.3,121.6 L1122.1,135.9 L1122.9,129.7 L1123.7,137.9 L1124.9,146.1 L1126.2,151.2 L1127.4,150.2 L1128.6,155.3 L1129.8,148.1 L1131.1,137.9 L1132.3,134.9 L1133.5,125.7 L1134.7,119.5 L1136,116.5 L1136.8,127.7 L1138,129.7 L1139.2,137.9 L1140.5,145.1 L1141.7,147.1 L1142.9,145.1 L1143.7,133.8 L1144.6,119.5 L1145.4,106.3 L1146.2,104.8 L1147,113 L1147.8,105.2 L1149.1,99.1 L1150.3,105.2 L1151.5,110.3 L1152.7,109.3 L1154,108.3 L1155.2,117.5 L1156,121.6 L1156.8,117.5 L1157.6,122.6 L1158.4,113.4 L1159.3,84.8 L1160.1,60.3 L1161.3,54.2 L1162.5,43.9 L1163.4,31.7 L1164.2,21.5 L1165.8,20.5 L1167.8,19.4 L1169.5,15.3 L1171.1,9.6 L1172.7,10.2 L1174.4,12.3 L1176,12.9 L1178.1,14.3 L1180.1,17 L1182.1,21.5 L1184.2,27.6 L1186.2,32.7 L1188.3,35.4 L1189.9,34.8 L1191.1,29.6 L1192.4,23.5 L1194,21.9 L1195.2,20.5 L1196.4,18.4 L1198.1,20.5 L1199.3,23.5 L1200.9,25.1 L1202.6,27.6 L1204.2,29.6 L1205.8,30.7 L1207.1,29.2 L1208.3,25.6 L1209.9,21.5 L1211.6,18.4 L1212.8,17 L1214.4,18.4 L1216.1,21.5 L1217.7,25.1 L1219.3,29.6 L1220.6,35.8 L1221.8,31.7 L1223,30.7 L1224.6,32.7 L1226.3,34.8 L1227.9,37.8 L1229.1,38.8 L1230.4,35.8 L1231.6,36.8 L1232.8,31.7 L1234.4,26.6 L1236.1,23.5 L1238.1,21.9 L1240.2,20.5 L1242.2,19 L1244.2,17.8 L1245.5,13.3 L1246.7,9.6 L1247.9,12.3 L1249.2,10.2 L1250.4,14.3 L1251.6,17.4 L1253.2,20.5 L1254.5,27.6 L1255.7,37.8 L1257.3,50.1 L1258.1,62.3 L1259,71.5 L1259.8,74.2 L1260.6,68.5 L1261.4,63.4 L1262.6,65.4 L1263.9,66 L1264.7,60.3 L1265.9,50.1 L1267.1,42.9 L1268.8,37.8 L1270,35.4 L1270,34.8 L1271.2,36.8 L1272.5,46 L1273.7,58.2 L1274.5,84.8 L1275.7,101.1 L1276.9,108.3 L1278.6,111.4 L1280.6,114.4 L1281.8,121.6 L1283.1,127.7 L1284.7,130.2 L1285.9,125.7 L1287.2,116.5 L1288.4,115.4 L1290,113.8 L1290.8,103.2 L1292.1,100.1 L1292.9,104.2 L1294.1,99.1 L1295.3,95 L1296.6,90.9 L1297.4,95 L1298.2,104.2 L1299.4,103.2 L1300.2,95 L1301.1,93 L1301.9,99.1 L1303.1,96 L1304.3,94.6 L1306,99.1 L1306.8,107.3 L1308,117.5 L1309.2,131.8 L1310.4,150.2 L1311.7,166.5 L1312.9,176.3 L1314.1,174.7 L1315.4,162.4 L1316.6,142 L1317.8,123.6 L1319,115.4 L1320.3,112.4 L1321.5,113.4 L1322.3,121.6 L1323.1,133.8 L1323.9,150.2 L1324.7,160.4 L1326,166.5 L1327.2,172.6 L1328,178.8 L1328.8,177.8 L1329.7,168.6 L1330.9,166.5 L1331.7,154.3 L1332.5,137.9 L1333.3,127.7 L1334.6,119.5 L1335.8,107.3 L1337,97.1 L1337.8,93.4 L1338.6,103.2 L1339.5,100.1 L1340.3,105.2 L1341.5,113.4 L1342.7,121.6 L1343.5,131.8 L1344.8,146.1 L1346,158.3 L1347.2,162 L1348.4,160.4 L1349.7,156.3 L1350.9,153.2 L1352.1,154.3 L1353.4,157.3 L1354.6,164.5 L1355.8,168.2 L1357.4,169.6 L1358.7,170.2 L1359.9,166.5 L1360.7,154.3 L1361.5,133.8 L1362.7,117.5 L1364,111.4 L1365.2,111 L1366.4,114.4 L1367.2,117.5 L1368.1,137.9 L1368.9,166.5 L1369.7,182.9 L1370.5,186.9 L1371.7,176.7 L1373,168.6 L1374.6,164.5 L1376.2,161.4 L1377.5,166.5 L1378.7,171.6 L1380.3,175.1 L1381.5,170.6 L1382.8,166.9 L1384,171.6 L1385.2,168.6 L1386.4,172.6 L1388.1,172.2 L1389.3,174.7 L1390.5,176.7 L1391.8,174.7 L1393,178.8 L1394.2,179.8 L1395,184.9 L1396.7,185.3 L1397.9,185.9 L1398.7,179.8 L1400.3,177.8 L1402,176.7 L1403.6,173.7 L1404.8,180.8 L1406.1,182.9 L1407.3,180.8 L1408.5,185.9 L1409.7,189 L1411,182.9 L1411.8,172.6 L1412.6,158.3 L1413.4,146.1 L1414.2,133.8 L1415,129.3 L1416.7,128.9 L1417.9,130.8 L1418.7,140 L1419.5,150.2 L1420.4,160.4 L1421.2,171.6 L1422,164.5 L1423.2,161.4 L1424.4,162.4 L1425.7,164.5 L1426.9,166.5 L1427.7,178.8 L1428.9,174.7 L1430.2,171.6 L1431.8,170.6 L1432.6,162.4 L1433.4,152.2 L1434.2,146.5 L1435.1,150.2 L1436.3,154.3 L1437.1,151.2 L1438.3,154.3 L1439.2,162.4 L1440.4,171.6 L1441.6,168.6 L1442.4,166.5 L1443.2,174.7 L1444.5,178.8 L1445.7,179.8 L1446.5,184.9 L1447.7,193.1 L1449,196.8 L1450.6,195.5 L1452.2,194.1 L1453.5,191 L1454.7,192.1 L1455.9,189 L1456.7,174.7 L1457.5,160.4 L1458.4,150.2 L1459.6,146.1 L1460,143 L1461.2,140 L1462.5,146.1 L1463.7,158.3 L1465.3,168.6 L1466.1,178.8 L1466.9,191 L1468.2,195.1 L1469.4,194.1 L1470.6,184.9 L1472.3,181.8 L1473.5,177.8 L1475.1,174.7 L1476.8,176.7 L1478.4,175.1 L1480,176.3 L1481.2,181.8 L1482.5,183.3 L1483.7,179.8 L1485.3,177.8 L1487,173.7 L1488.6,168.6 L1490.2,162.4 L1491.5,165.5 L1492.7,154.3 L1493.9,144 L1495.1,140 L1496.8,136.3 L1498,140 L1499.2,150.2 L1500.4,160.4 L1501.7,178.8 L1502.9,188 L1504.1,190.6 L1505.8,190.6 L1507,186.9 L1508.2,182.9 L1509.4,183.9 L1510.3,174.7 L1511.5,173.7 L1512.7,174.3 L1513.9,176.3 L1515.6,177.8 L1516.8,182.9 L1518.4,185.9 L1519.7,183.9 L1520.5,158.3 L1521.3,129.7 L1522.5,119.5 L1523.7,105.2 L1524.6,95.4 L1525.8,94.6 L1526.6,101.1 L1527.4,113.4 L1528.6,123.6 L1529.5,131.8 L1530.3,158.3 L1530.7,182.9 L1531.5,193.1 L1533.1,192.7 L1534,186.9 L1534.8,162.4 L1535.6,129.7 L1536.4,99.1 L1537.6,93 L1538.9,80.7 L1540.1,75.6 L1540.9,80.7 L1541.7,95 L1542.5,107.3 L1543.8,110.3 L1544.6,125.7 L1545.4,137.9 L1546.6,137.9 L1547.8,129.7 L1548.7,105.2 L1549.5,80.7 L1550.7,70.5 L1551.9,62.3 L1553.2,57.2 L1554.4,53.7 L1555.6,57.2 L1556.8,58.2 L1558.1,50.1 L1559.3,45 L1560.5,41.9 L1561.3,50.1 L1562.6,58.2 L1563.8,66.4 L1564.6,76.6 L1565.4,101.1 L1565.8,142 L1566.2,174.7 L1567.5,178.8 L1568.7,182.9 L1569.9,189 L1570.7,192.1 L1572,190.6 L1573.2,189 L1574.4,190 L1575.6,186.9 L1576.9,180.8 L1578.1,177.8 L1579.3,179.8 L1580.5,180.4 L1581.8,181.8 L1583,184.9 L1583.8,190 L1585,189 L1586.3,186.9 L1587.5,187.4 L1588.7,183.9 L1589.5,162.4 L1590.3,121.6 L1591.2,84.8 L1592,66.4 L1593.2,50.1 L1594,31.7 L1594.8,21.5 L1596.5,19.4 L1598.1,19.8 L1599.3,16.4 L1601,13.3 L1603,11.3 L1605.5,10.2 L1607.9,10.8 L1609.9,11.7 L1611.6,13.7 L1613.6,14.1 L1616.1,14.5 L1618.5,14.9 L1621,14.9 L1622.6,14.3 L1623.4,11.7 L1625.1,12.9 L1626.7,12.1 L1628.7,12.3 L1631.2,12.5 L1633.2,12.9 L1634.9,11.7 L1636.9,11.3 L1638.1,11.7 L1639.4,17.4 L1640.6,23.5 L1641.8,31.7 L1643,36.8 L1644.3,46 L1645.5,54.2 L1646.7,60.3 L1647.9,66.4 L1649.2,73.6 L1650,73.8 L1651.6,73.6 L1652.5,64.4 L1653.3,52.1 L1654.1,43.9 L1654.9,39.9 L1656.1,42.9 L1657.8,46 L1659,49.1 L1659.8,60.3 L1660.6,76.6 L1661.4,86.8 L1662.3,94 L1663.1,80.7 L1663.9,60.3 L1665.1,55.2 L1666.3,54.2 L1667.2,46 L1668,37.8 L1668.8,33.7 L1669.6,36.8 L1670.8,42.3 L1672.1,40.9 L1673.3,36.8 L1674.5,39.9 L1676.1,37.8 L1677.8,35.8 L1679,33.7 L1680.2,35.8 L1681.5,27.6 L1682.7,22.5 L1683.9,20.5 L1685.1,20.5 L1686.4,22.5 L1687.2,25.6 L1688,33.7 L1688.8,41.9 L1689.6,50.1 L1690.4,64.4 L1691.3,76.6 L1692.1,86.8 L1693.3,95 L1694.5,100.1 L1695.8,97.1 L1697,98.1 L1697.8,90.9 L1698.6,80.7 L1699.8,76.6 L1701.1,76.2 L1702.3,78.7 L1703.5,79.7 L1704.7,84.8 L1706,88.9 L1707.2,100.1 L1708.4,90.9 L1709.7,86.8 L1710.9,80.7 L1712.1,74.6 L1713.3,69.5 L1714.6,66.4 L1715.8,70.5 L1717,76.6 L1718.2,80.7 L1719.1,92 L1719.9,80.7 L1720.7,74.6 L1721.5,80.7 L1722.3,86.8 L1723.5,80.7 L1724.8,76.6 L1726,75.6 L1727.2,73.6 L1728,68.5 L1728.9,64.4 L1729.7,67.4 L1730.5,71.5 L1731.3,68.5 L1732.1,62.3 L1732.9,59.3 L1733.8,63.4 L1734.6,72.5 L1735.4,66.4 L1736.2,72.5 L1737,76.6 L1737.8,68.5 L1738.7,95 L1739.5,88.9 L1740.7,82.8 L1741.9,79.7 L1742.7,78.7 L1743.6,82.8 L1744.4,88.9 L1745.2,93 L1746,96 L1746.8,84.8 L1747.7,72.5 L1748.5,60.3 L1749.3,48 L1750.1,39.9 L1751.3,31.7 L1752.6,29.6 L1753.8,30.7 L1755,35.8 L1756.2,39.9 L1757,48 L1757.9,58.2 L1758.7,66.4 L1759.9,72.5 L1760.7,77.7 L1761.5,86.8 L1762.4,97.1 L1763.2,107.3 L1764.4,115.4 L1765.6,120.6 L1766.4,124 L1767.3,115.4 L1768.1,110.3 L1769.3,111.4 L1770.5,112.4 L1771.8,110.3 L1772.6,97.1 L1773.4,80.7 L1774.2,82.8 L1775,86.8 L1776.3,86.4 L1777.5,88.9 L1778.3,105.2 L1778.7,125.7 L1779.5,144 L1780.3,146.1 L1781.6,144.5 L1782.4,137.9 L1783.2,113.4 L1784,86.8 L1784.8,74.6 L1785.6,70.9 L1787.3,72.1 L1788.5,74.6 L1789.3,80.7 L1790.1,97.1 L1791,121.6 L1791.8,143 L1792.6,121.6 L1793.4,109.3 L1794.2,103.2 L1795.5,98.1 L1796.7,94.6 L1797.5,93 L1798.3,115.4 L1798.7,101.1 L1799.5,99.1 L1800.4,95 L1801.2,88.9 L1802.4,86.8 L1803.6,86.4 L1804.4,84.8 L1805.3,81.7 L1806.1,84.8 L1806.9,97.1 L1807.7,113.4 L1808.5,128.7 L1809.8,123.6 L1811,128.7 L1812.2,122.6 L1813.4,123.6 L1814.2,122.6 L1815.1,127.7 L1815.9,132.8 L1816.7,129.7 L1817.5,101.1 L1818.3,80.7 L1819.2,74.6 L1820.4,70.5 L1821.6,73.6 L1822.8,76.6 L1823.6,88.9 L1824.5,113.4 L1825.3,133.8 L1826.1,146.1 L1826.9,151.2 L1827.7,145.1 L1829,143 L1830.2,141 L1831.4,129.7 L1832.6,118.5 L1833.9,123.6 L1835.1,124.6 L1836.3,121.6 L1837.1,117.5 L1837.9,126.7 L1838.8,117.5 L1840,113.4 L1841.2,109.3 L1842,101.1 L1842.8,88.9 L1843.7,81.7 L1845.3,79.7 L1846.9,80.3 L1848.2,82.8 L1849,101.1 L1849.8,121.6 L1850,128.7 L1851,129.7 L1852.2,131.4 L1853.4,129.7 L1854.2,121.6 L1855.5,109.3 L1856.7,101.1 L1857.9,98.1 L1858.7,96 L1859.5,93.4" fill="none" stroke="#1871b1" stroke-width="2.55" stroke-linejoin="round" stroke-linecap="butt"/>
<text class="t" transform="translate(998.4,278.8) scale(1,1.02)">b. Naive Interpretation of Stressful Periods</text>
<text class="k" text-anchor="end" transform="translate(46.6,324.9) scale(1,1.04)">0.8</text>
<text class="k" text-anchor="end" transform="translate(46.6,371.8) scale(1,1.04)">0.6</text>
<text class="k" text-anchor="end" transform="translate(46.6,418.6) scale(1,1.04)">0.4</text>
<text class="k" text-anchor="end" transform="translate(46.6,465.5) scale(1,1.04)">0.2</text>
<text class="l" transform="translate(15.7,396.4) rotate(-90) scale(1,1.0)">Likelihood</text>
</g>
<g>
<rect x="51.4" y="546.6" width="1894" height="215.8" fill="#eaeaf2"/>
<path d="M70.50,546.6V762.4000000000001M285.85,546.6V762.4000000000001M500.90,546.6V762.4000000000001M716.40,546.6V762.4000000000001M931.70,546.6V762.4000000000001M1146.80,546.6V762.4000000000001M1361.90,546.6V762.4000000000001M1577.00,546.6V762.4000000000001M1792.00,546.6V762.4000000000001M51.4,578.00H1945.4M51.4,624.87H1945.4M51.4,671.73H1945.4M51.4,718.60H1945.4" stroke="#fff" stroke-width="1.45" fill="none"/>
<rect x="1033.8" y="546.6" width="72.6" height="215.8" fill="#ffc0cb" fill-opacity="0.5"/>
<rect x="1165.2" y="546.6" width="120.8" height="215.8" fill="#ffc0cb" fill-opacity="0.5"/>
<rect x="1595.9" y="546.6" width="96.4" height="215.8" fill="#ffc0cb" fill-opacity="0.5"/>
<path transform="translate(0,546.6)" d="M137.2,199.2 L139.2,198.8 L140.6,199.6 L141.8,196.8 L144.3,196.3 L145.9,194.7 L147.4,194.7 L149.4,191.8 L151.5,193.1 L152.9,198.2 L155.1,201.7 L157,198.2 L158.6,193.1 L161.1,192.7 L162.7,190 L164.1,196.1 L166.8,196.5 L168.4,196.8 L170.2,190 L171.9,185.3 L173.3,185.3 L174.5,183.9 L176,188 L177.4,193.5 L179,189 L180.7,189.4 L182.3,188 L183.9,191 L185.6,192.1 L187.2,188 L188.8,180.8 L190.9,172.6 L192.9,164.5 L193.9,154.3 L194.6,121.6 L195.2,80.7 L196.2,69.9 L197.8,71.5 L199.5,76.6 L200.5,84.8 L201.1,121.6 L201.7,158.3 L202.3,169.2 L203.5,162.4 L205.2,146.1 L206.6,141 L208.2,137.9 L210.1,144 L211.7,154.3 L213.4,159.4 L215,159 L216.2,152.2 L217,121.6 L217.8,95 L219.5,82.8 L221.3,73 L222.3,76.6 L223.4,92.6 L224.4,70.5 L225.6,58.2 L226.8,55.6 L228.1,58.2 L229.7,68.5 L230.9,80.7 L231.7,121.6 L232.6,158.3 L233.4,175.1 L235,174.3 L236.6,178.8 L238.3,181.8 L239.9,186.5 L241.5,182.9 L243.2,183.9 L244.8,184.5 L246,175.1 L248.1,174.7 L249.3,171.6 L250.5,163.5 L252,170.2 L253.4,169 L255,168.6 L256.3,184.9 L257.9,176.7 L259.9,170.6 L261.8,162.4 L263.2,150.2 L264.8,151.2 L266.1,155.3 L266.9,150.2 L268.5,151.2 L269.7,160.4 L271.4,168.6 L273,178.8 L274.6,195.5 L276.3,195.1 L277.9,194.7 L279.5,194.1 L281.2,195.1 L283.2,195.5 L285.3,195.7 L287.3,196.8 L289.3,195.5 L291.4,192.7 L293,189 L294.7,191 L295.9,188.6 L297.1,194.1 L298.7,197.6 L300.4,196.8 L302.4,197.2 L304.9,196.1 L307.3,196.8 L309.8,195.5 L312.2,193.1 L314.3,190.6 L315.5,192.1 L317.1,185.9 L318.8,188 L320,189 L321.6,190 L322.9,193.5 L324.5,193.5 L326.1,188 L327.8,181.8 L329.4,181.2 L331,180.4 L332.7,183.9 L333.9,189 L335.5,189.4 L337.2,191 L339.2,192.5 L341.2,191 L343.3,189.4 L344.5,186.9 L345.7,176.7 L347,162.4 L348.2,151.2 L349.8,144 L350.6,141.6 L351.9,151.2 L352.7,129.7 L353.3,122.6 L354.3,124.6 L355.5,120.6 L357.2,117.1 L358.8,113.4 L360,107.3 L360.9,95 L361.5,91.3 L362.5,93.4 L363.7,94 L364.9,97.1 L366.2,103.2 L367,113.4 L367.8,129.7 L369,146.1 L370.7,160.4 L372.3,172.6 L373.5,177.1 L374.7,178.8 L375.6,170.6 L376.4,158.3 L378,153.2 L379.4,151.8 L380.5,156.3 L381.3,166.5 L382.9,174.7 L384.4,179.8 L385.4,172.6 L386.6,168.6 L388.2,166.5 L389.5,157.3 L390.9,151.2 L391.9,161.4 L393.1,166.5 L394.8,170.6 L396.4,174.7 L397.6,176.7 L399.3,174.3 L400.9,173.7 L402.5,174.7 L403.8,162.4 L404.6,173.7 L405.8,176.7 L407.4,179.8 L408.7,184.9 L409.5,196.1 L411.1,197.6 L413.2,197.8 L416,197.6 L418.9,196.8 L421.7,197.2 L424.2,196.3 L426.2,196.8 L428.3,197.2 L430.3,195.5 L432.4,194.1 L434.4,194.1 L436.4,195.7 L438.5,197.2 L441.8,197.6 L445,197.6 L448.7,197.6 L452.4,197.2 L454,196.1 L456.9,196.8 L459.9,197.2 L463,197.2 L465.5,196.1 L467.1,194.1 L468.3,189.4 L469.9,189.4 L471.2,192.1 L472.8,197.2 L474.4,201.7 L476.5,200.2 L479.3,198.8 L482.6,198.2 L485.9,198.2 L488.7,198.2 L490,196.8 L491.2,192.1 L492.8,191 L494.1,190 L495.3,188 L496.5,190.6 L497.7,187.4 L499.4,186.9 L501.4,185.3 L502.6,178.8 L503.9,175.1 L505.5,177.1 L507.1,178.8 L508.4,183.9 L510,187.4 L510,187.3 L511.2,185.7 L512.5,184.7 L513.7,183.2 L514.5,180.6 L515.3,175 L516.2,177 L517,179.1 L518.2,180.8 L519.2,179.1 L520.3,176.5 L520.9,181.6 L521.9,183.5 L523.1,185.2 L524.2,187.3 L525.2,189.9 L526,197 L527,198.1 L528.5,198.6 L530.1,199.3 L532,200.1 L534,200.5 L536.3,200.3 L538.5,200.1 L540.8,200.5 L542.9,200.1 L544.7,200.1 L545.5,199.1 L546.1,194 L547.2,193.4 L548.4,194.5 L549.6,195 L550.9,195.8 L551.7,197.6 L552.3,202.2 L553.5,203.4 L555.2,203.5 L557.2,203.4 L559.3,203.4 L561.3,203.4 L563.4,203.4 L565.4,203.2 L567.1,203 L568.9,203.2 L571,203.4 L572.8,203.7 L574.1,204 L575.7,203.7 L577.8,203.8 L579.8,203.9 L581.9,203.8 L583.5,203.5 L584.9,203 L586.4,202 L587.8,201.4 L589.1,200.1 L589.9,197 L590.5,192.4 L591.3,191.4 L592.1,192.9 L592.8,198.1 L593.6,197 L594.4,199.1 L595.2,196 L596,197.6 L596.9,198.9 L598.1,198.6 L599.3,197.6 L600.3,196.8 L601.8,196.2 L603.2,195.8 L604.7,195.4 L606.1,194.8 L607.1,192.9 L607.7,188.8 L608.8,187.6 L610.2,187 L611.6,186.8 L612.7,185.7 L613.5,184.7 L614.1,186.8 L614.7,189.9 L615.7,190.9 L616.8,191.9 L617.8,192.9 L618.8,190.9 L619.9,192.4 L621.3,192.7 L622.5,192.9 L623.8,194 L624.8,195.8 L625.8,198.1 L627,200.1 L628.3,201.4 L629.5,202.2 L630.7,202 L632.2,202 L633.2,200.1 L634.2,199.1 L635.7,198.9 L637.3,199.1 L638.7,198.6 L640.2,199.1 L641.6,199.6 L643.1,199.6 L644.5,200.3 L645.9,199.9 L647.4,198.9 L648.6,197.6 L649.6,196 L650.7,195 L651.7,196.5 L653.1,197.2 L654.1,199.1 L655,201.1 L655.8,204 L656.8,202.7 L657.8,200.6 L659.1,199.1 L660.5,198.3 L661.7,198.6 L662.8,199.6 L663.6,202.2 L665,203.7 L666.5,204.4 L667.9,205 L669.3,205.8 L670.8,204.7 L671.8,202.2 L672.6,196 L673.9,193.4 L675.3,192.9 L676.7,193.1 L678,191.9 L678.8,194 L679.4,196.5 L680.4,197.6 L681.7,198.6 L682.9,199.9 L684.1,201.1 L685.6,201.4 L686.6,200.1 L687.8,200.9 L688.9,199.9 L689.7,203.2 L690.9,204 L692.3,203.7 L693.8,203.4 L695.2,203.7 L696.7,203 L698.1,202 L699.5,201.1 L700,200.8 L702,201.2 L703.7,202.9 L705.3,199.6 L707.4,199.2 L709,198.2 L710.6,198.2 L712.3,196.8 L713.9,199.6 L715.9,201.2 L717.6,200.2 L718.8,197.2 L719.4,182.9 L720,156.3 L721.2,144 L722.9,133.8 L724.1,123.6 L724.5,117.5 L741.9,100.1 L741.7,70.9 L742.5,176.3 L743.1,101.1 L743.7,66.4 L744.3,61.9 L745.4,68.9 L746.6,58.2 L747.8,43.9 L749,31.7 L750.3,29.2 L751.5,20.5 L752.7,17.8 L754.3,17.4 L756,20.5 L757.6,27.6 L758.8,36.8 L759.7,52.1 L760.5,76.6 L761.3,97.1 L762.1,115.4 L763.3,118.5 L764.1,125.7 L765,130.8 L766.2,125.7 L767,113.4 L767.8,101.1 L769.1,96 L770.3,94.6 L771.5,95 L772.3,101.1 L773.5,113.4 L774.8,127.7 L776,144 L777.2,155.3 L778.4,157.3 L780.1,158.3 L781.3,160.4 L782.9,164.1 L784.6,167.5 L786.2,162.4 L787.8,162.4 L789.1,160.4 L790.7,162.4 L792.3,165.5 L794,164.9 L795.2,168.6 L796.8,166.5 L798.1,161.4 L799.7,164.1 L801.3,166.9 L802.6,168.6 L804.2,173.1 L805.8,167.5 L807,166.1 L808.3,170.2 L809.5,162.4 L811.1,159.4 L812.8,157.3 L814.4,150.2 L815.6,142 L816.9,140 L817.7,131.8 L819.3,129.7 L820.9,132.8 L822.2,137.9 L823.4,150.2 L825,155.3 L826.7,160.4 L828.3,165.5 L829.9,170.6 L832,177.1 L833.2,174.7 L834.8,175.1 L836.5,172.2 L838.1,173.1 L839.7,170.6 L841.4,173.7 L843,175.1 L844.6,174.7 L845.9,169.6 L847.1,160.4 L848.3,150.2 L849.5,142 L851.2,137.9 L852.4,133.8 L853.6,135.9 L854.9,129.7 L856.1,127.3 L857.3,128.1 L858.1,132.8 L859.3,132.8 L860.6,140 L861.8,150.2 L863,162.4 L864.2,170.6 L865.5,175.1 L866.7,176.7 L867.5,164.1 L869.2,166.5 L870.8,168.6 L872.4,168.2 L873.2,178.8 L874.1,188 L875.3,183.9 L876.9,180.4 L878.1,179.2 L879.4,182.9 L881,180.4 L882.6,179.8 L884.3,178.4 L885.5,176.7 L886.7,170.6 L887.9,166.5 L889.2,165.5 L890,164.5 L891.2,163.5 L892.5,168.6 L894.1,177.1 L895.7,172.6 L896.5,154.3 L897.4,121.6 L898.2,84.8 L899,64.4 L900.6,50.1 L902.3,36.8 L903.5,36.2 L904.3,50.1 L905.9,56.2 L907.2,64.4 L908.8,80.7 L910.4,97.1 L911.7,109.3 L912.5,125.7 L913.7,142 L914.5,160.4 L915.3,178.8 L917,181.8 L918.2,188 L919.4,181.8 L921.1,184.5 L922.3,182.9 L923.5,185.3 L924.7,183.9 L926,187.4 L927.2,184.9 L928.4,188 L930,190 L931.7,193.1 L933.3,197.6 L934.9,199.2 L937,197.6 L939,196.8 L941.1,195.1 L943.1,194.1 L944.7,191 L946.4,186.5 L948,184.9 L949.7,185.9 L951.3,189 L952.9,192.1 L954.6,191 L956.6,191.4 L958.6,192.1 L960.3,193.1 L961.5,195.5 L962.7,191 L963.5,162.4 L964.4,137.9 L965.6,111.4 L966.8,97.1 L968,85.8 L969.3,92 L970.1,103.2 L971.3,115.4 L972.5,129.7 L973.8,146.1 L975,161.4 L976.2,154.3 L977.4,148.1 L978.7,154.3 L979.9,162.4 L980.7,154.3 L981.5,140 L982.3,126.7 L983.6,123.6 L985.2,124 L986.8,127.7 L988.1,140 L988.9,162.4 L989.7,178.8 L990.9,191 L992.6,192.1 L994.2,190.6 L995.8,193.5 L997.5,194.7 L998.3,185.9 L999.9,188 L1001.5,190 L1003.2,191 L1004.4,178.8 L1005.2,162.4 L1006.4,146.1 L1007.7,131.8 L1008.9,128.7 L1010.1,133.8 L1010.9,142 L1012.2,150.2 L1013,166.5 L1013.8,186.9 L1014.6,194.1 L1015.8,186.9 L1017.1,185.3 L1018.7,183.9 L1020.3,183.3 L1021.6,188 L1022.4,176.7 L1023.6,168.6 L1024.8,164.5 L1026.1,156.3 L1027.3,148.1 L1028.5,158.3 L1030.1,157.3 L1031.4,154.3 L1032.2,121.6 L1033,80.7 L1034.2,66.4 L1035.5,43.9 L1036.7,26.6 L1037.9,25.1 L1039.1,33.7 L1040.4,41.9 L1041.6,48 L1042.8,60.3 L1043.6,97.1 L1044.4,140 L1045.3,129.7 L1046.5,121.6 L1047.7,123.6 L1048.9,129.7 L1050.2,135.9 L1051.4,140 L1052.2,152.2 L1053,162.4 L1054.2,160.4 L1055.5,152.2 L1056.7,161.4 L1057.9,162.4 L1059.2,158.3 L1060.4,162.8 L1061.6,154.3 L1062.4,145.1 L1064.1,144.5 L1065.3,142 L1066.5,138.9 L1067.7,149.2 L1069,153.2 L1070.2,151.2 L1071.4,142 L1072.2,125.7 L1073,90.9 L1073.9,69.5 L1075.1,67.4 L1076.3,62.3 L1077.5,58.2 L1078.4,66.4 L1079.2,80.7 L1080,96 L1080,96 L1080.8,76.6 L1082,54.2 L1083.7,37.8 L1085.3,27.6 L1086.5,21.9 L1088.2,22.5 L1089.4,33.7 L1090.6,39.9 L1092.3,42.9 L1093.1,56.2 L1093.9,71.5 L1095.1,69.5 L1096.3,72.1 L1098,64.4 L1099.2,50.1 L1100.4,39.9 L1102.1,35.4 L1103.7,32.7 L1104.9,34.1 L1106.1,41.9 L1107.8,54.2 L1108.6,66.4 L1109.4,84.8 L1110.2,105.2 L1111.1,125.7 L1112.3,144 L1113.5,156.3 L1114.3,162.4 L1115.1,142 L1116,121.6 L1117.2,115.4 L1118.4,109.3 L1119.6,105.2 L1120.4,106.3 L1121.3,121.6 L1122.1,135.9 L1122.9,129.7 L1123.7,137.9 L1124.9,146.1 L1126.2,151.2 L1127.4,150.2 L1128.6,155.3 L1129.8,148.1 L1131.1,137.9 L1132.3,134.9 L1133.5,125.7 L1134.7,119.5 L1136,116.5 L1136.8,127.7 L1138,129.7 L1139.2,137.9 L1140.5,145.1 L1141.7,147.1 L1142.9,145.1 L1143.7,133.8 L1144.6,119.5 L1145.4,106.3 L1146.2,104.8 L1147,113 L1147.8,105.2 L1149.1,99.1 L1150.3,105.2 L1151.5,110.3 L1152.7,109.3 L1154,108.3 L1155.2,117.5 L1156,121.6 L1156.8,117.5 L1157.6,122.6 L1158.4,113.4 L1159.3,84.8 L1160.1,60.3 L1161.3,54.2 L1162.5,43.9 L1163.4,31.7 L1164.2,21.5 L1165.8,20.5 L1167.8,19.4 L1169.5,15.3 L1171.1,9.6 L1172.7,10.2 L1174.4,12.3 L1176,12.9 L1178.1,14.3 L1180.1,17 L1182.1,21.5 L1184.2,27.6 L1186.2,32.7 L1188.3,35.4 L1189.9,34.8 L1191.1,29.6 L1192.4,23.5 L1194,21.9 L1195.2,20.5 L1196.4,18.4 L1198.1,20.5 L1199.3,23.5 L1200.9,25.1 L1202.6,27.6 L1204.2,29.6 L1205.8,30.7 L1207.1,29.2 L1208.3,25.6 L1209.9,21.5 L1211.6,18.4 L1212.8,17 L1214.4,18.4 L1216.1,21.5 L1217.7,25.1 L1219.3,29.6 L1220.6,35.8 L1221.8,31.7 L1223,30.7 L1224.6,32.7 L1226.3,34.8 L1227.9,37.8 L1229.1,38.8 L1230.4,35.8 L1231.6,36.8 L1232.8,31.7 L1234.4,26.6 L1236.1,23.5 L1238.1,21.9 L1240.2,20.5 L1242.2,19 L1244.2,17.8 L1245.5,13.3 L1246.7,9.6 L1247.9,12.3 L1249.2,10.2 L1250.4,14.3 L1251.6,17.4 L1253.2,20.5 L1254.5,27.6 L1255.7,37.8 L1257.3,50.1 L1258.1,62.3 L1259,71.5 L1259.8,74.2 L1260.6,68.5 L1261.4,63.4 L1262.6,65.4 L1263.9,66 L1264.7,60.3 L1265.9,50.1 L1267.1,42.9 L1268.8,37.8 L1270,35.4 L1270,34.8 L1271.2,36.8 L1272.5,46 L1273.7,58.2 L1274.5,84.8 L1275.7,101.1 L1276.9,108.3 L1278.6,111.4 L1280.6,114.4 L1281.8,121.6 L1283.1,127.7 L1284.7,130.2 L1285.9,125.7 L1287.2,116.5 L1288.4,115.4 L1290,113.8 L1290.8,103.2 L1292.1,100.1 L1292.9,104.2 L1294.1,99.1 L1295.3,95 L1296.6,90.9 L1297.4,95 L1298.2,104.2 L1299.4,103.2 L1300.2,95 L1301.1,93 L1301.9,99.1 L1303.1,96 L1304.3,94.6 L1306,99.1 L1306.8,107.3 L1308,117.5 L1309.2,131.8 L1310.4,150.2 L1311.7,166.5 L1312.9,176.3 L1314.1,174.7 L1315.4,162.4 L1316.6,142 L1317.8,123.6 L1319,115.4 L1320.3,112.4 L1321.5,113.4 L1322.3,121.6 L1323.1,133.8 L1323.9,150.2 L1324.7,160.4 L1326,166.5 L1327.2,172.6 L1328,178.8 L1328.8,177.8 L1329.7,168.6 L1330.9,166.5 L1331.7,154.3 L1332.5,137.9 L1333.3,127.7 L1334.6,119.5 L1335.8,107.3 L1337,97.1 L1337.8,93.4 L1338.6,103.2 L1339.5,100.1 L1340.3,105.2 L1341.5,113.4 L1342.7,121.6 L1343.5,131.8 L1344.8,146.1 L1346,158.3 L1347.2,162 L1348.4,160.4 L1349.7,156.3 L1350.9,153.2 L1352.1,154.3 L1353.4,157.3 L1354.6,164.5 L1355.8,168.2 L1357.4,169.6 L1358.7,170.2 L1359.9,166.5 L1360.7,154.3 L1361.5,133.8 L1362.7,117.5 L1364,111.4 L1365.2,111 L1366.4,114.4 L1367.2,117.5 L1368.1,137.9 L1368.9,166.5 L1369.7,182.9 L1370.5,186.9 L1371.7,176.7 L1373,168.6 L1374.6,164.5 L1376.2,161.4 L1377.5,166.5 L1378.7,171.6 L1380.3,175.1 L1381.5,170.6 L1382.8,166.9 L1384,171.6 L1385.2,168.6 L1386.4,172.6 L1388.1,172.2 L1389.3,174.7 L1390.5,176.7 L1391.8,174.7 L1393,178.8 L1394.2,179.8 L1395,184.9 L1396.7,185.3 L1397.9,185.9 L1398.7,179.8 L1400.3,177.8 L1402,176.7 L1403.6,173.7 L1404.8,180.8 L1406.1,182.9 L1407.3,180.8 L1408.5,185.9 L1409.7,189 L1411,182.9 L1411.8,172.6 L1412.6,158.3 L1413.4,146.1 L1414.2,133.8 L1415,129.3 L1416.7,128.9 L1417.9,130.8 L1418.7,140 L1419.5,150.2 L1420.4,160.4 L1421.2,171.6 L1422,164.5 L1423.2,161.4 L1424.4,162.4 L1425.7,164.5 L1426.9,166.5 L1427.7,178.8 L1428.9,174.7 L1430.2,171.6 L1431.8,170.6 L1432.6,162.4 L1433.4,152.2 L1434.2,146.5 L1435.1,150.2 L1436.3,154.3 L1437.1,151.2 L1438.3,154.3 L1439.2,162.4 L1440.4,171.6 L1441.6,168.6 L1442.4,166.5 L1443.2,174.7 L1444.5,178.8 L1445.7,179.8 L1446.5,184.9 L1447.7,193.1 L1449,196.8 L1450.6,195.5 L1452.2,194.1 L1453.5,191 L1454.7,192.1 L1455.9,189 L1456.7,174.7 L1457.5,160.4 L1458.4,150.2 L1459.6,146.1 L1460,143 L1461.2,140 L1462.5,146.1 L1463.7,158.3 L1465.3,168.6 L1466.1,178.8 L1466.9,191 L1468.2,195.1 L1469.4,194.1 L1470.6,184.9 L1472.3,181.8 L1473.5,177.8 L1475.1,174.7 L1476.8,176.7 L1478.4,175.1 L1480,176.3 L1481.2,181.8 L1482.5,183.3 L1483.7,179.8 L1485.3,177.8 L1487,173.7 L1488.6,168.6 L1490.2,162.4 L1491.5,165.5 L1492.7,154.3 L1493.9,144 L1495.1,140 L1496.8,136.3 L1498,140 L1499.2,150.2 L1500.4,160.4 L1501.7,178.8 L1502.9,188 L1504.1,190.6 L1505.8,190.6 L1507,186.9 L1508.2,182.9 L1509.4,183.9 L1510.3,174.7 L1511.5,173.7 L1512.7,174.3 L1513.9,176.3 L1515.6,177.8 L1516.8,182.9 L1518.4,185.9 L1519.7,183.9 L1520.5,158.3 L1521.3,129.7 L1522.5,119.5 L1523.7,105.2 L1524.6,95.4 L1525.8,94.6 L1526.6,101.1 L1527.4,113.4 L1528.6,123.6 L1529.5,131.8 L1530.3,158.3 L1530.7,182.9 L1531.5,193.1 L1533.1,192.7 L1534,186.9 L1534.8,162.4 L1535.6,129.7 L1536.4,99.1 L1537.6,93 L1538.9,80.7 L1540.1,75.6 L1540.9,80.7 L1541.7,95 L1542.5,107.3 L1543.8,110.3 L1544.6,125.7 L1545.4,137.9 L1546.6,137.9 L1547.8,129.7 L1548.7,105.2 L1549.5,80.7 L1550.7,70.5 L1551.9,62.3 L1553.2,57.2 L1554.4,53.7 L1555.6,57.2 L1556.8,58.2 L1558.1,50.1 L1559.3,45 L1560.5,41.9 L1561.3,50.1 L1562.6,58.2 L1563.8,66.4 L1564.6,76.6 L1565.4,101.1 L1565.8,142 L1566.2,174.7 L1567.5,178.8 L1568.7,182.9 L1569.9,189 L1570.7,192.1 L1572,190.6 L1573.2,189 L1574.4,190 L1575.6,186.9 L1576.9,180.8 L1578.1,177.8 L1579.3,179.8 L1580.5,180.4 L1581.8,181.8 L1583,184.9 L1583.8,190 L1585,189 L1586.3,186.9 L1587.5,187.4 L1588.7,183.9 L1589.5,162.4 L1590.3,121.6 L1591.2,84.8 L1592,66.4 L1593.2,50.1 L1594,31.7 L1594.8,21.5 L1596.5,19.4 L1598.1,19.8 L1599.3,16.4 L1601,13.3 L1603,11.3 L1605.5,10.2 L1607.9,10.8 L1609.9,11.7 L1611.6,13.7 L1613.6,14.1 L1616.1,14.5 L1618.5,14.9 L1621,14.9 L1622.6,14.3 L1623.4,11.7 L1625.1,12.9 L1626.7,12.1 L1628.7,12.3 L1631.2,12.5 L1633.2,12.9 L1634.9,11.7 L1636.9,11.3 L1638.1,11.7 L1639.4,17.4 L1640.6,23.5 L1641.8,31.7 L1643,36.8 L1644.3,46 L1645.5,54.2 L1646.7,60.3 L1647.9,66.4 L1649.2,73.6 L1650,73.8 L1651.6,73.6 L1652.5,64.4 L1653.3,52.1 L1654.1,43.9 L1654.9,39.9 L1656.1,42.9 L1657.8,46 L1659,49.1 L1659.8,60.3 L1660.6,76.6 L1661.4,86.8 L1662.3,94 L1663.1,80.7 L1663.9,60.3 L1665.1,55.2 L1666.3,54.2 L1667.2,46 L1668,37.8 L1668.8,33.7 L1669.6,36.8 L1670.8,42.3 L1672.1,40.9 L1673.3,36.8 L1674.5,39.9 L1676.1,37.8 L1677.8,35.8 L1679,33.7 L1680.2,35.8 L1681.5,27.6 L1682.7,22.5 L1683.9,20.5 L1685.1,20.5 L1686.4,22.5 L1687.2,25.6 L1688,33.7 L1688.8,41.9 L1689.6,50.1 L1690.4,64.4 L1691.3,76.6 L1692.1,86.8 L1693.3,95 L1694.5,100.1 L1695.8,97.1 L1697,98.1 L1697.8,90.9 L1698.6,80.7 L1699.8,76.6 L1701.1,76.2 L1702.3,78.7 L1703.5,79.7 L1704.7,84.8 L1706,88.9 L1707.2,100.1 L1708.4,90.9 L1709.7,86.8 L1710.9,80.7 L1712.1,74.6 L1713.3,69.5 L1714.6,66.4 L1715.8,70.5 L1717,76.6 L1718.2,80.7 L1719.1,92 L1719.9,80.7 L1720.7,74.6 L1721.5,80.7 L1722.3,86.8 L1723.5,80.7 L1724.8,76.6 L1726,75.6 L1727.2,73.6 L1728,68.5 L1728.9,64.4 L1729.7,67.4 L1730.5,71.5 L1731.3,68.5 L1732.1,62.3 L1732.9,59.3 L1733.8,63.4 L1734.6,72.5 L1735.4,66.4 L1736.2,72.5 L1737,76.6 L1737.8,68.5 L1738.7,95 L1739.5,88.9 L1740.7,82.8 L1741.9,79.7 L1742.7,78.7 L1743.6,82.8 L1744.4,88.9 L1745.2,93 L1746,96 L1746.8,84.8 L1747.7,72.5 L1748.5,60.3 L1749.3,48 L1750.1,39.9 L1751.3,31.7 L1752.6,29.6 L1753.8,30.7 L1755,35.8 L1756.2,39.9 L1757,48 L1757.9,58.2 L1758.7,66.4 L1759.9,72.5 L1760.7,77.7 L1761.5,86.8 L1762.4,97.1 L1763.2,107.3 L1764.4,115.4 L1765.6,120.6 L1766.4,124 L1767.3,115.4 L1768.1,110.3 L1769.3,111.4 L1770.5,112.4 L1771.8,110.3 L1772.6,97.1 L1773.4,80.7 L1774.2,82.8 L1775,86.8 L1776.3,86.4 L1777.5,88.9 L1778.3,105.2 L1778.7,125.7 L1779.5,144 L1780.3,146.1 L1781.6,144.5 L1782.4,137.9 L1783.2,113.4 L1784,86.8 L1784.8,74.6 L1785.6,70.9 L1787.3,72.1 L1788.5,74.6 L1789.3,80.7 L1790.1,97.1 L1791,121.6 L1791.8,143 L1792.6,121.6 L1793.4,109.3 L1794.2,103.2 L1795.5,98.1 L1796.7,94.6 L1797.5,93 L1798.3,115.4 L1798.7,101.1 L1799.5,99.1 L1800.4,95 L1801.2,88.9 L1802.4,86.8 L1803.6,86.4 L1804.4,84.8 L1805.3,81.7 L1806.1,84.8 L1806.9,97.1 L1807.7,113.4 L1808.5,128.7 L1809.8,123.6 L1811,128.7 L1812.2,122.6 L1813.4,123.6 L1814.2,122.6 L1815.1,127.7 L1815.9,132.8 L1816.7,129.7 L1817.5,101.1 L1818.3,80.7 L1819.2,74.6 L1820.4,70.5 L1821.6,73.6 L1822.8,76.6 L1823.6,88.9 L1824.5,113.4 L1825.3,133.8 L1826.1,146.1 L1826.9,151.2 L1827.7,145.1 L1829,143 L1830.2,141 L1831.4,129.7 L1832.6,118.5 L1833.9,123.6 L1835.1,124.6 L1836.3,121.6 L1837.1,117.5 L1837.9,126.7 L1838.8,117.5 L1840,113.4 L1841.2,109.3 L1842,101.1 L1842.8,88.9 L1843.7,81.7 L1845.3,79.7 L1846.9,80.3 L1848.2,82.8 L1849,101.1 L1849.8,121.6 L1850,128.7 L1851,129.7 L1852.2,131.4 L1853.4,129.7 L1854.2,121.6 L1855.5,109.3 L1856.7,101.1 L1857.9,98.1 L1858.7,96 L1859.5,93.4" fill="none" stroke="#1871b1" stroke-width="2.55" stroke-linejoin="round" stroke-linecap="butt"/>
<text class="t" transform="translate(998.4,537.6) scale(1,1.02)">c. Actual Self-Reprted Stress</text>
<text class="k" text-anchor="end" transform="translate(46.6,583.5) scale(1,1.04)">0.8</text>
<text class="k" text-anchor="end" transform="translate(46.6,630.4) scale(1,1.04)">0.6</text>
<text class="k" text-anchor="end" transform="translate(46.6,677.2) scale(1,1.04)">0.4</text>
<text class="k" text-anchor="end" transform="translate(46.6,724.1) scale(1,1.04)">0.2</text>
<text class="l" transform="translate(15.7,655.2) rotate(-90) scale(1,1.0)">Likelihood</text>
<text class="a" transform="translate(1070.5,753.1) scale(1,1.02)">Moderate</text>
<text class="a" transform="translate(1226.0,753.1) scale(1,1.02)">High</text>
<text class="a" transform="translate(1644.5,753.1) scale(1,1.02)">Low</text>
</g>
<g>
<rect x="51.4" y="805.3" width="1894" height="215.8" fill="#eaeaf2"/>
<path d="M70.50,805.3V1021.0999999999999M285.85,805.3V1021.0999999999999M500.90,805.3V1021.0999999999999M716.40,805.3V1021.0999999999999M931.70,805.3V1021.0999999999999M1146.80,805.3V1021.0999999999999M1361.90,805.3V1021.0999999999999M1577.00,805.3V1021.0999999999999M1792.00,805.3V1021.0999999999999M51.4,836.95H1945.4M51.4,883.80H1945.4M51.4,930.65H1945.4M51.4,977.50H1945.4" stroke="#fff" stroke-width="1.45" fill="none"/>
<rect x="1033.8" y="805.3" width="72.6" height="215.8" fill="#ffc0cb" fill-opacity="0.5"/>
<rect x="1165.2" y="805.3" width="120.8" height="215.8" fill="#ffc0cb" fill-opacity="0.5"/>
<rect x="1595.9" y="805.3" width="96.4" height="215.8" fill="#ffc0cb" fill-opacity="0.5"/>
<path transform="translate(0,805.3)" d="M137.2,199.2 L139.2,198.8 L140.6,199.6 L141.8,196.8 L144.3,196.3 L145.9,194.7 L147.4,194.7 L149.4,191.8 L151.5,193.1 L152.9,198.2 L155.1,201.7 L157,198.2 L158.6,193.1 L161.1,192.7 L162.7,190 L164.1,196.1 L166.8,196.5 L168.4,196.8 L170.2,190 L171.9,185.3 L173.3,185.3 L174.5,183.9 L176,188 L177.4,193.5 L179,189 L180.7,189.4 L182.3,188 L183.9,191 L185.6,192.1 L187.2,188 L188.8,180.8 L190.9,172.6 L192.9,164.5 L193.9,154.3 L194.6,121.6 L195.2,80.7 L196.2,69.9 L197.8,71.5 L199.5,76.6 L200.5,84.8 L201.1,121.6 L201.7,158.3 L202.3,169.2 L203.5,162.4 L205.2,146.1 L206.6,141 L208.2,137.9 L210.1,144 L211.7,154.3 L213.4,159.4 L215,159 L216.2,152.2 L217,121.6 L217.8,95 L219.5,82.8 L221.3,73 L222.3,76.6 L223.4,92.6 L224.4,70.5 L225.6,58.2 L226.8,55.6 L228.1,58.2 L229.7,68.5 L230.9,80.7 L231.7,121.6 L232.6,158.3 L233.4,175.1 L235,174.3 L236.6,178.8 L238.3,181.8 L239.9,186.5 L241.5,182.9 L243.2,183.9 L244.8,184.5 L246,175.1 L248.1,174.7 L249.3,171.6 L250.5,163.5 L252,170.2 L253.4,169 L255,168.6 L256.3,184.9 L257.9,176.7 L259.9,170.6 L261.8,162.4 L263.2,150.2 L264.8,151.2 L266.1,155.3 L266.9,150.2 L268.5,151.2 L269.7,160.4 L271.4,168.6 L273,178.8 L274.6,195.5 L276.3,195.1 L277.9,194.7 L279.5,194.1 L281.2,195.1 L283.2,195.5 L285.3,195.7 L287.3,196.8 L289.3,195.5 L291.4,192.7 L293,189 L294.7,191 L295.9,188.6 L297.1,194.1 L298.7,197.6 L300.4,196.8 L302.4,197.2 L304.9,196.1 L307.3,196.8 L309.8,195.5 L312.2,193.1 L314.3,190.6 L315.5,192.1 L317.1,185.9 L318.8,188 L320,189 L321.6,190 L322.9,193.5 L324.5,193.5 L326.1,188 L327.8,181.8 L329.4,181.2 L331,180.4 L332.7,183.9 L333.9,189 L335.5,189.4 L337.2,191 L339.2,192.5 L341.2,191 L343.3,189.4 L344.5,186.9 L345.7,176.7 L347,162.4 L348.2,151.2 L349.8,144 L350.6,141.6 L351.9,151.2 L352.7,129.7 L353.3,122.6 L354.3,124.6 L355.5,120.6 L357.2,117.1 L358.8,113.4 L360,107.3 L360.9,95 L361.5,91.3 L362.5,93.4 L363.7,94 L364.9,97.1 L366.2,103.2 L367,113.4 L367.8,129.7 L369,146.1 L370.7,160.4 L372.3,172.6 L373.5,177.1 L374.7,178.8 L375.6,170.6 L376.4,158.3 L378,153.2 L379.4,151.8 L380.5,156.3 L381.3,166.5 L382.9,174.7 L384.4,179.8 L385.4,172.6 L386.6,168.6 L388.2,166.5 L389.5,157.3 L390.9,151.2 L391.9,161.4 L393.1,166.5 L394.8,170.6 L396.4,174.7 L397.6,176.7 L399.3,174.3 L400.9,173.7 L402.5,174.7 L403.8,162.4 L404.6,173.7 L405.8,176.7 L407.4,179.8 L408.7,184.9 L409.5,196.1 L411.1,197.6 L413.2,197.8 L416,197.6 L418.9,196.8 L421.7,197.2 L424.2,196.3 L426.2,196.8 L428.3,197.2 L430.3,195.5 L432.4,194.1 L434.4,194.1 L436.4,195.7 L438.5,197.2 L441.8,197.6 L445,197.6 L448.7,197.6 L452.4,197.2 L454,196.1 L456.9,196.8 L459.9,197.2 L463,197.2 L465.5,196.1 L467.1,194.1 L468.3,189.4 L469.9,189.4 L471.2,192.1 L472.8,197.2 L474.4,201.7 L476.5,200.2 L479.3,198.8 L482.6,198.2 L485.9,198.2 L488.7,198.2 L490,196.8 L491.2,192.1 L492.8,191 L494.1,190 L495.3,188 L496.5,190.6 L497.7,187.4 L499.4,186.9 L501.4,185.3 L502.6,178.8 L503.9,175.1 L505.5,177.1 L507.1,178.8 L508.4,183.9 L510,187.4 L510,187.3 L511.2,185.7 L512.5,184.7 L513.7,183.2 L514.5,180.6 L515.3,175 L516.2,177 L517,179.1 L518.2,180.8 L519.2,179.1 L520.3,176.5 L520.9,181.6 L521.9,183.5 L523.1,185.2 L524.2,187.3 L525.2,189.9 L526,197 L527,198.1 L528.5,198.6 L530.1,199.3 L532,200.1 L534,200.5 L536.3,200.3 L538.5,200.1 L540.8,200.5 L542.9,200.1 L544.7,200.1 L545.5,199.1 L546.1,194 L547.2,193.4 L548.4,194.5 L549.6,195 L550.9,195.8 L551.7,197.6 L552.3,202.2 L553.5,203.4 L555.2,203.5 L557.2,203.4 L559.3,203.4 L561.3,203.4 L563.4,203.4 L565.4,203.2 L567.1,203 L568.9,203.2 L571,203.4 L572.8,203.7 L574.1,204 L575.7,203.7 L577.8,203.8 L579.8,203.9 L581.9,203.8 L583.5,203.5 L584.9,203 L586.4,202 L587.8,201.4 L589.1,200.1 L589.9,197 L590.5,192.4 L591.3,191.4 L592.1,192.9 L592.8,198.1 L593.6,197 L594.4,199.1 L595.2,196 L596,197.6 L596.9,198.9 L598.1,198.6 L599.3,197.6 L600.3,196.8 L601.8,196.2 L603.2,195.8 L604.7,195.4 L606.1,194.8 L607.1,192.9 L607.7,188.8 L608.8,187.6 L610.2,187 L611.6,186.8 L612.7,185.7 L613.5,184.7 L614.1,186.8 L614.7,189.9 L615.7,190.9 L616.8,191.9 L617.8,192.9 L618.8,190.9 L619.9,192.4 L621.3,192.7 L622.5,192.9 L623.8,194 L624.8,195.8 L625.8,198.1 L627,200.1 L628.3,201.4 L629.5,202.2 L630.7,202 L632.2,202 L633.2,200.1 L634.2,199.1 L635.7,198.9 L637.3,199.1 L638.7,198.6 L640.2,199.1 L641.6,199.6 L643.1,199.6 L644.5,200.3 L645.9,199.9 L647.4,198.9 L648.6,197.6 L649.6,196 L650.7,195 L651.7,196.5 L653.1,197.2 L654.1,199.1 L655,201.1 L655.8,204 L656.8,202.7 L657.8,200.6 L659.1,199.1 L660.5,198.3 L661.7,198.6 L662.8,199.6 L663.6,202.2 L665,203.7 L666.5,204.4 L667.9,205 L669.3,205.8 L670.8,204.7 L671.8,202.2 L672.6,196 L673.9,193.4 L675.3,192.9 L676.7,193.1 L678,191.9 L678.8,194 L679.4,196.5 L680.4,197.6 L681.7,198.6 L682.9,199.9 L684.1,201.1 L685.6,201.4 L686.6,200.1 L687.8,200.9 L688.9,199.9 L689.7,203.2 L690.9,204 L692.3,203.7 L693.8,203.4 L695.2,203.7 L696.7,203 L698.1,202 L699.5,201.1 L700,200.8 L702,201.2 L703.7,202.9 L705.3,199.6 L707.4,199.2 L709,198.2 L710.6,198.2 L712.3,196.8 L713.9,199.6 L715.9,201.2 L717.6,200.2 L718.8,197.2 L719.4,182.9 L720,156.3 L721.2,144 L722.9,133.8 L724.1,123.6 L724.5,117.5 L741.9,100.1 L741.7,70.9 L742.5,176.3 L743.1,101.1 L743.7,66.4 L744.3,61.9 L745.4,68.9 L746.6,58.2 L747.8,43.9 L749,31.7 L750.3,29.2 L751.5,20.5 L752.7,17.8 L754.3,17.4 L756,20.5 L757.6,27.6 L758.8,36.8 L759.7,52.1 L760.5,76.6 L761.3,97.1 L762.1,115.4 L763.3,118.5 L764.1,125.7 L765,130.8 L766.2,125.7 L767,113.4 L767.8,101.1 L769.1,96 L770.3,94.6 L771.5,95 L772.3,101.1 L773.5,113.4 L774.8,127.7 L776,144 L777.2,155.3 L778.4,157.3 L780.1,158.3 L781.3,160.4 L782.9,164.1 L784.6,167.5 L786.2,162.4 L787.8,162.4 L789.1,160.4 L790.7,162.4 L792.3,165.5 L794,164.9 L795.2,168.6 L796.8,166.5 L798.1,161.4 L799.7,164.1 L801.3,166.9 L802.6,168.6 L804.2,173.1 L805.8,167.5 L807,166.1 L808.3,170.2 L809.5,162.4 L811.1,159.4 L812.8,157.3 L814.4,150.2 L815.6,142 L816.9,140 L817.7,131.8 L819.3,129.7 L820.9,132.8 L822.2,137.9 L823.4,150.2 L825,155.3 L826.7,160.4 L828.3,165.5 L829.9,170.6 L832,177.1 L833.2,174.7 L834.8,175.1 L836.5,172.2 L838.1,173.1 L839.7,170.6 L841.4,173.7 L843,175.1 L844.6,174.7 L845.9,169.6 L847.1,160.4 L848.3,150.2 L849.5,142 L851.2,137.9 L852.4,133.8 L853.6,135.9 L854.9,129.7 L856.1,127.3 L857.3,128.1 L858.1,132.8 L859.3,132.8 L860.6,140 L861.8,150.2 L863,162.4 L864.2,170.6 L865.5,175.1 L866.7,176.7 L867.5,164.1 L869.2,166.5 L870.8,168.6 L872.4,168.2 L873.2,178.8 L874.1,188 L875.3,183.9 L876.9,180.4 L878.1,179.2 L879.4,182.9 L881,180.4 L882.6,179.8 L884.3,178.4 L885.5,176.7 L886.7,170.6 L887.9,166.5 L889.2,165.5 L890,164.5 L891.2,163.5 L892.5,168.6 L894.1,177.1 L895.7,172.6 L896.5,154.3 L897.4,121.6 L898.2,84.8 L899,64.4 L900.6,50.1 L902.3,36.8 L903.5,36.2 L904.3,50.1 L905.9,56.2 L907.2,64.4 L908.8,80.7 L910.4,97.1 L911.7,109.3 L912.5,125.7 L913.7,142 L914.5,160.4 L915.3,178.8 L917,181.8 L918.2,188 L919.4,181.8 L921.1,184.5 L922.3,182.9 L923.5,185.3 L924.7,183.9 L926,187.4 L927.2,184.9 L928.4,188 L930,190 L931.7,193.1 L933.3,197.6 L934.9,199.2 L937,197.6 L939,196.8 L941.1,195.1 L943.1,194.1 L944.7,191 L946.4,186.5 L948,184.9 L949.7,185.9 L951.3,189 L952.9,192.1 L954.6,191 L956.6,191.4 L958.6,192.1 L960.3,193.1 L961.5,195.5 L962.7,191 L963.5,162.4 L964.4,137.9 L965.6,111.4 L966.8,97.1 L968,85.8 L969.3,92 L970.1,103.2 L971.3,115.4 L972.5,129.7 L973.8,146.1 L975,161.4 L976.2,154.3 L977.4,148.1 L978.7,154.3 L979.9,162.4 L980.7,154.3 L981.5,140 L982.3,126.7 L983.6,123.6 L985.2,124 L986.8,127.7 L988.1,140 L988.9,162.4 L989.7,178.8 L990.9,191 L992.6,192.1 L994.2,190.6 L995.8,193.5 L997.5,194.7 L998.3,185.9 L999.9,188 L1001.5,190 L1003.2,191 L1004.4,178.8 L1005.2,162.4 L1006.4,146.1 L1007.7,131.8 L1008.9,128.7 L1010.1,133.8 L1010.9,142 L1012.2,150.2 L1013,166.5 L1013.8,186.9 L1014.6,194.1 L1015.8,186.9 L1017.1,185.3 L1018.7,183.9 L1020.3,183.3 L1021.6,188 L1022.4,176.7 L1023.6,168.6 L1024.8,164.5 L1026.1,156.3 L1027.3,148.1 L1028.5,158.3 L1030.1,157.3 L1031.4,154.3 L1032.2,121.6 L1033,80.7 L1034.2,66.4 L1035.5,43.9 L1036.7,26.6 L1037.9,25.1 L1039.1,33.7 L1040.4,41.9 L1041.6,48 L1042.8,60.3 L1043.6,97.1 L1044.4,140 L1045.3,129.7 L1046.5,121.6 L1047.7,123.6 L1048.9,129.7 L1050.2,135.9 L1051.4,140 L1052.2,152.2 L1053,162.4 L1054.2,160.4 L1055.5,152.2 L1056.7,161.4 L1057.9,162.4 L1059.2,158.3 L1060.4,162.8 L1061.6,154.3 L1062.4,145.1 L1064.1,144.5 L1065.3,142 L1066.5,138.9 L1067.7,149.2 L1069,153.2 L1070.2,151.2 L1071.4,142 L1072.2,125.7 L1073,90.9 L1073.9,69.5 L1075.1,67.4 L1076.3,62.3 L1077.5,58.2 L1078.4,66.4 L1079.2,80.7 L1080,96 L1080,96 L1080.8,76.6 L1082,54.2 L1083.7,37.8 L1085.3,27.6 L1086.5,21.9 L1088.2,22.5 L1089.4,33.7 L1090.6,39.9 L1092.3,42.9 L1093.1,56.2 L1093.9,71.5 L1095.1,69.5 L1096.3,72.1 L1098,64.4 L1099.2,50.1 L1100.4,39.9 L1102.1,35.4 L1103.7,32.7 L1104.9,34.1 L1106.1,41.9 L1107.8,54.2 L1108.6,66.4 L1109.4,84.8 L1110.2,105.2 L1111.1,125.7 L1112.3,144 L1113.5,156.3 L1114.3,162.4 L1115.1,142 L1116,121.6 L1117.2,115.4 L1118.4,109.3 L1119.6,105.2 L1120.4,106.3 L1121.3,121.6 L1122.1,135.9 L1122.9,129.7 L1123.7,137.9 L1124.9,146.1 L1126.2,151.2 L1127.4,150.2 L1128.6,155.3 L1129.8,148.1 L1131.1,137.9 L1132.3,134.9 L1133.5,125.7 L1134.7,119.5 L1136,116.5 L1136.8,127.7 L1138,129.7 L1139.2,137.9 L1140.5,145.1 L1141.7,147.1 L1142.9,145.1 L1143.7,133.8 L1144.6,119.5 L1145.4,106.3 L1146.2,104.8 L1147,113 L1147.8,105.2 L1149.1,99.1 L1150.3,105.2 L1151.5,110.3 L1152.7,109.3 L1154,108.3 L1155.2,117.5 L1156,121.6 L1156.8,117.5 L1157.6,122.6 L1158.4,113.4 L1159.3,84.8 L1160.1,60.3 L1161.3,54.2 L1162.5,43.9 L1163.4,31.7 L1164.2,21.5 L1165.8,20.5 L1167.8,19.4 L1169.5,15.3 L1171.1,9.6 L1172.7,10.2 L1174.4,12.3 L1176,12.9 L1178.1,14.3 L1180.1,17 L1182.1,21.5 L1184.2,27.6 L1186.2,32.7 L1188.3,35.4 L1189.9,34.8 L1191.1,29.6 L1192.4,23.5 L1194,21.9 L1195.2,20.5 L1196.4,18.4 L1198.1,20.5 L1199.3,23.5 L1200.9,25.1 L1202.6,27.6 L1204.2,29.6 L1205.8,30.7 L1207.1,29.2 L1208.3,25.6 L1209.9,21.5 L1211.6,18.4 L1212.8,17 L1214.4,18.4 L1216.1,21.5 L1217.7,25.1 L1219.3,29.6 L1220.6,35.8 L1221.8,31.7 L1223,30.7 L1224.6,32.7 L1226.3,34.8 L1227.9,37.8 L1229.1,38.8 L1230.4,35.8 L1231.6,36.8 L1232.8,31.7 L1234.4,26.6 L1236.1,23.5 L1238.1,21.9 L1240.2,20.5 L1242.2,19 L1244.2,17.8 L1245.5,13.3 L1246.7,9.6 L1247.9,12.3 L1249.2,10.2 L1250.4,14.3 L1251.6,17.4 L1253.2,20.5 L1254.5,27.6 L1255.7,37.8 L1257.3,50.1 L1258.1,62.3 L1259,71.5 L1259.8,74.2 L1260.6,68.5 L1261.4,63.4 L1262.6,65.4 L1263.9,66 L1264.7,60.3 L1265.9,50.1 L1267.1,42.9 L1268.8,37.8 L1270,35.4 L1270,34.8 L1271.2,36.8 L1272.5,46 L1273.7,58.2 L1274.5,84.8 L1275.7,101.1 L1276.9,108.3 L1278.6,111.4 L1280.6,114.4 L1281.8,121.6 L1283.1,127.7 L1284.7,130.2 L1285.9,125.7 L1287.2,116.5 L1288.4,115.4 L1290,113.8 L1290.8,103.2 L1292.1,100.1 L1292.9,104.2 L1294.1,99.1 L1295.3,95 L1296.6,90.9 L1297.4,95 L1298.2,104.2 L1299.4,103.2 L1300.2,95 L1301.1,93 L1301.9,99.1 L1303.1,96 L1304.3,94.6 L1306,99.1 L1306.8,107.3 L1308,117.5 L1309.2,131.8 L1310.4,150.2 L1311.7,166.5 L1312.9,176.3 L1314.1,174.7 L1315.4,162.4 L1316.6,142 L1317.8,123.6 L1319,115.4 L1320.3,112.4 L1321.5,113.4 L1322.3,121.6 L1323.1,133.8 L1323.9,150.2 L1324.7,160.4 L1326,166.5 L1327.2,172.6 L1328,178.8 L1328.8,177.8 L1329.7,168.6 L1330.9,166.5 L1331.7,154.3 L1332.5,137.9 L1333.3,127.7 L1334.6,119.5 L1335.8,107.3 L1337,97.1 L1337.8,93.4 L1338.6,103.2 L1339.5,100.1 L1340.3,105.2 L1341.5,113.4 L1342.7,121.6 L1343.5,131.8 L1344.8,146.1 L1346,158.3 L1347.2,162 L1348.4,160.4 L1349.7,156.3 L1350.9,153.2 L1352.1,154.3 L1353.4,157.3 L1354.6,164.5 L1355.8,168.2 L1357.4,169.6 L1358.7,170.2 L1359.9,166.5 L1360.7,154.3 L1361.5,133.8 L1362.7,117.5 L1364,111.4 L1365.2,111 L1366.4,114.4 L1367.2,117.5 L1368.1,137.9 L1368.9,166.5 L1369.7,182.9 L1370.5,186.9 L1371.7,176.7 L1373,168.6 L1374.6,164.5 L1376.2,161.4 L1377.5,166.5 L1378.7,171.6 L1380.3,175.1 L1381.5,170.6 L1382.8,166.9 L1384,171.6 L1385.2,168.6 L1386.4,172.6 L1388.1,172.2 L1389.3,174.7 L1390.5,176.7 L1391.8,174.7 L1393,178.8 L1394.2,179.8 L1395,184.9 L1396.7,185.3 L1397.9,185.9 L1398.7,179.8 L1400.3,177.8 L1402,176.7 L1403.6,173.7 L1404.8,180.8 L1406.1,182.9 L1407.3,180.8 L1408.5,185.9 L1409.7,189 L1411,182.9 L1411.8,172.6 L1412.6,158.3 L1413.4,146.1 L1414.2,133.8 L1415,129.3 L1416.7,128.9 L1417.9,130.8 L1418.7,140 L1419.5,150.2 L1420.4,160.4 L1421.2,171.6 L1422,164.5 L1423.2,161.4 L1424.4,162.4 L1425.7,164.5 L1426.9,166.5 L1427.7,178.8 L1428.9,174.7 L1430.2,171.6 L1431.8,170.6 L1432.6,162.4 L1433.4,152.2 L1434.2,146.5 L1435.1,150.2 L1436.3,154.3 L1437.1,151.2 L1438.3,154.3 L1439.2,162.4 L1440.4,171.6 L1441.6,168.6 L1442.4,166.5 L1443.2,174.7 L1444.5,178.8 L1445.7,179.8 L1446.5,184.9 L1447.7,193.1 L1449,196.8 L1450.6,195.5 L1452.2,194.1 L1453.5,191 L1454.7,192.1 L1455.9,189 L1456.7,174.7 L1457.5,160.4 L1458.4,150.2 L1459.6,146.1 L1460,143 L1461.2,140 L1462.5,146.1 L1463.7,158.3 L1465.3,168.6 L1466.1,178.8 L1466.9,191 L1468.2,195.1 L1469.4,194.1 L1470.6,184.9 L1472.3,181.8 L1473.5,177.8 L1475.1,174.7 L1476.8,176.7 L1478.4,175.1 L1480,176.3 L1481.2,181.8 L1482.5,183.3 L1483.7,179.8 L1485.3,177.8 L1487,173.7 L1488.6,168.6 L1490.2,162.4 L1491.5,165.5 L1492.7,154.3 L1493.9,144 L1495.1,140 L1496.8,136.3 L1498,140 L1499.2,150.2 L1500.4,160.4 L1501.7,178.8 L1502.9,188 L1504.1,190.6 L1505.8,190.6 L1507,186.9 L1508.2,182.9 L1509.4,183.9 L1510.3,174.7 L1511.5,173.7 L1512.7,174.3 L1513.9,176.3 L1515.6,177.8 L1516.8,182.9 L1518.4,185.9 L1519.7,183.9 L1520.5,158.3 L1521.3,129.7 L1522.5,119.5 L1523.7,105.2 L1524.6,95.4 L1525.8,94.6 L1526.6,101.1 L1527.4,113.4 L1528.6,123.6 L1529.5,131.8 L1530.3,158.3 L1530.7,182.9 L1531.5,193.1 L1533.1,192.7 L1534,186.9 L1534.8,162.4 L1535.6,129.7 L1536.4,99.1 L1537.6,93 L1538.9,80.7 L1540.1,75.6 L1540.9,80.7 L1541.7,95 L1542.5,107.3 L1543.8,110.3 L1544.6,125.7 L1545.4,137.9 L1546.6,137.9 L1547.8,129.7 L1548.7,105.2 L1549.5,80.7 L1550.7,70.5 L1551.9,62.3 L1553.2,57.2 L1554.4,53.7 L1555.6,57.2 L1556.8,58.2 L1558.1,50.1 L1559.3,45 L1560.5,41.9 L1561.3,50.1 L1562.6,58.2 L1563.8,66.4 L1564.6,76.6 L1565.4,101.1 L1565.8,142 L1566.2,174.7 L1567.5,178.8 L1568.7,182.9 L1569.9,189 L1570.7,192.1 L1572,190.6 L1573.2,189 L1574.4,190 L1575.6,186.9 L1576.9,180.8 L1578.1,177.8 L1579.3,179.8 L1580.5,180.4 L1581.8,181.8 L1583,184.9 L1583.8,190 L1585,189 L1586.3,186.9 L1587.5,187.4 L1588.7,183.9 L1589.5,162.4 L1590.3,121.6 L1591.2,84.8 L1592,66.4 L1593.2,50.1 L1594,31.7 L1594.8,21.5 L1596.5,19.4 L1598.1,19.8 L1599.3,16.4 L1601,13.3 L1603,11.3 L1605.5,10.2 L1607.9,10.8 L1609.9,11.7 L1611.6,13.7 L1613.6,14.1 L1616.1,14.5 L1618.5,14.9 L1621,14.9 L1622.6,14.3 L1623.4,11.7 L1625.1,12.9 L1626.7,12.1 L1628.7,12.3 L1631.2,12.5 L1633.2,12.9 L1634.9,11.7 L1636.9,11.3 L1638.1,11.7 L1639.4,17.4 L1640.6,23.5 L1641.8,31.7 L1643,36.8 L1644.3,46 L1645.5,54.2 L1646.7,60.3 L1647.9,66.4 L1649.2,73.6 L1650,73.8 L1651.6,73.6 L1652.5,64.4 L1653.3,52.1 L1654.1,43.9 L1654.9,39.9 L1656.1,42.9 L1657.8,46 L1659,49.1 L1659.8,60.3 L1660.6,76.6 L1661.4,86.8 L1662.3,94 L1663.1,80.7 L1663.9,60.3 L1665.1,55.2 L1666.3,54.2 L1667.2,46 L1668,37.8 L1668.8,33.7 L1669.6,36.8 L1670.8,42.3 L1672.1,40.9 L1673.3,36.8 L1674.5,39.9 L1676.1,37.8 L1677.8,35.8 L1679,33.7 L1680.2,35.8 L1681.5,27.6 L1682.7,22.5 L1683.9,20.5 L1685.1,20.5 L1686.4,22.5 L1687.2,25.6 L1688,33.7 L1688.8,41.9 L1689.6,50.1 L1690.4,64.4 L1691.3,76.6 L1692.1,86.8 L1693.3,95 L1694.5,100.1 L1695.8,97.1 L1697,98.1 L1697.8,90.9 L1698.6,80.7 L1699.8,76.6 L1701.1,76.2 L1702.3,78.7 L1703.5,79.7 L1704.7,84.8 L1706,88.9 L1707.2,100.1 L1708.4,90.9 L1709.7,86.8 L1710.9,80.7 L1712.1,74.6 L1713.3,69.5 L1714.6,66.4 L1715.8,70.5 L1717,76.6 L1718.2,80.7 L1719.1,92 L1719.9,80.7 L1720.7,74.6 L1721.5,80.7 L1722.3,86.8 L1723.5,80.7 L1724.8,76.6 L1726,75.6 L1727.2,73.6 L1728,68.5 L1728.9,64.4 L1729.7,67.4 L1730.5,71.5 L1731.3,68.5 L1732.1,62.3 L1732.9,59.3 L1733.8,63.4 L1734.6,72.5 L1735.4,66.4 L1736.2,72.5 L1737,76.6 L1737.8,68.5 L1738.7,95 L1739.5,88.9 L1740.7,82.8 L1741.9,79.7 L1742.7,78.7 L1743.6,82.8 L1744.4,88.9 L1745.2,93 L1746,96 L1746.8,84.8 L1747.7,72.5 L1748.5,60.3 L1749.3,48 L1750.1,39.9 L1751.3,31.7 L1752.6,29.6 L1753.8,30.7 L1755,35.8 L1756.2,39.9 L1757,48 L1757.9,58.2 L1758.7,66.4 L1759.9,72.5 L1760.7,77.7 L1761.5,86.8 L1762.4,97.1 L1763.2,107.3 L1764.4,115.4 L1765.6,120.6 L1766.4,124 L1767.3,115.4 L1768.1,110.3 L1769.3,111.4 L1770.5,112.4 L1771.8,110.3 L1772.6,97.1 L1773.4,80.7 L1774.2,82.8 L1775,86.8 L1776.3,86.4 L1777.5,88.9 L1778.3,105.2 L1778.7,125.7 L1779.5,144 L1780.3,146.1 L1781.6,144.5 L1782.4,137.9 L1783.2,113.4 L1784,86.8 L1784.8,74.6 L1785.6,70.9 L1787.3,72.1 L1788.5,74.6 L1789.3,80.7 L1790.1,97.1 L1791,121.6 L1791.8,143 L1792.6,121.6 L1793.4,109.3 L1794.2,103.2 L1795.5,98.1 L1796.7,94.6 L1797.5,93 L1798.3,115.4 L1798.7,101.1 L1799.5,99.1 L1800.4,95 L1801.2,88.9 L1802.4,86.8 L1803.6,86.4 L1804.4,84.8 L1805.3,81.7 L1806.1,84.8 L1806.9,97.1 L1807.7,113.4 L1808.5,128.7 L1809.8,123.6 L1811,128.7 L1812.2,122.6 L1813.4,123.6 L1814.2,122.6 L1815.1,127.7 L1815.9,132.8 L1816.7,129.7 L1817.5,101.1 L1818.3,80.7 L1819.2,74.6 L1820.4,70.5 L1821.6,73.6 L1822.8,76.6 L1823.6,88.9 L1824.5,113.4 L1825.3,133.8 L1826.1,146.1 L1826.9,151.2 L1827.7,145.1 L1829,143 L1830.2,141 L1831.4,129.7 L1832.6,118.5 L1833.9,123.6 L1835.1,124.6 L1836.3,121.6 L1837.1,117.5 L1837.9,126.7 L1838.8,117.5 L1840,113.4 L1841.2,109.3 L1842,101.1 L1842.8,88.9 L1843.7,81.7 L1845.3,79.7 L1846.9,80.3 L1848.2,82.8 L1849,101.1 L1849.8,121.6 L1850,128.7 L1851,129.7 L1852.2,131.4 L1853.4,129.7 L1854.2,121.6 L1855.5,109.3 L1856.7,101.1 L1857.9,98.1 L1858.7,96 L1859.5,93.4" fill="none" stroke="#1871b1" stroke-width="2.55" stroke-linejoin="round" stroke-linecap="butt"/>
<text class="t" transform="translate(998.4,796.3) scale(1,1.02)">d. Context of the person better describes the observations</text>
<text class="k" text-anchor="end" transform="translate(46.6,842.5) scale(1,1.04)">0.8</text>
<text class="k" text-anchor="end" transform="translate(46.6,889.3) scale(1,1.04)">0.6</text>
<text class="k" text-anchor="end" transform="translate(46.6,936.1) scale(1,1.04)">0.4</text>
<text class="k" text-anchor="end" transform="translate(46.6,983.0) scale(1,1.04)">0.2</text>
<text class="l" transform="translate(15.7,913.9) rotate(-90) scale(1,1.0)">Likelihood</text>
<text class="a" transform="translate(1070.5,1011.8) scale(1,1.02)">In Class</text>
<text class="a" transform="translate(1226.0,1011.8) scale(1,1.02)">Exam</text>
<text class="a" transform="translate(1644.5,1011.8) scale(1,1.02)">Exercising</text>
</g>
<text class="k" text-anchor="middle" transform="translate(70.5,1037.7) scale(1,1.04)">04</text>
<text class="k" text-anchor="middle" transform="translate(285.9,1037.7) scale(1,1.04)">07</text>
<text class="k" text-anchor="middle" transform="translate(500.9,1037.7) scale(1,1.04)">10</text>
<text class="k" text-anchor="middle" transform="translate(716.4,1037.7) scale(1,1.04)">13</text>
<text class="k" text-anchor="middle" transform="translate(931.7,1037.7) scale(1,1.04)">16</text>
<text class="k" text-anchor="middle" transform="translate(1146.8,1037.7) scale(1,1.04)">19</text>
<text class="k" text-anchor="middle" transform="translate(1361.9,1037.7) scale(1,1.04)">22</text>
<text class="k" text-anchor="middle" transform="translate(1577.0,1037.7) scale(1,1.04)">01</text>
<text class="k" text-anchor="middle" transform="translate(1792.0,1037.7) scale(1,1.04)">04</text>
<text class="l" transform="translate(998.4,1059.9) scale(1,1.02)">Hour of day</text>
</svg></body></html>
